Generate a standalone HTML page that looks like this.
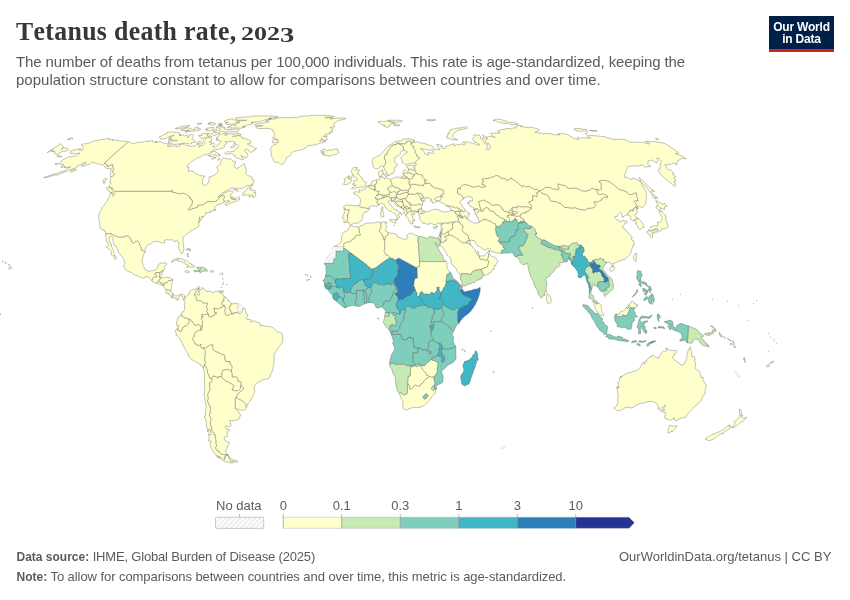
<!DOCTYPE html>
<html lang="en">
<head>
<meta charset="utf-8">
<title>Tetanus death rate, 2023</title>
<style>
html,body{margin:0;padding:0;background:#fff;}
body{width:850px;height:600px;position:relative;overflow:hidden;font-family:"Liberation Sans",sans-serif;}
.t{position:absolute;white-space:pre;line-height:1;margin:0;}
#title{left:16px;top:19.3px;font-family:"Liberation Serif",serif;font-weight:700;font-size:25.8px;color:#373737;letter-spacing:0.33px;}
#title .lc{display:inline-block;transform:scaleY(1.1);transform-origin:0 83.75%;}
#title .d{display:inline-block;margin-left:-2.3px;font-size:19.2px;letter-spacing:0;transform:scaleX(1.355);transform-origin:0 100%;}
#title .d3{position:relative;top:1.4px;font-size:1.1em;}
.sub{font-size:15px;color:#5b5b5b;}
.foot{font-size:13px;color:#5b5b5b;}
.foot b{font-weight:700;font-size:12px;}
#logo{position:absolute;left:769px;top:16px;width:65px;height:33px;background:#002147;border-bottom:3px solid #ce261e;color:#fff;font-weight:700;font-size:12px;text-align:center;line-height:12px;}
#logo span{position:absolute;left:0;width:65px;white-space:pre;}
#map{position:absolute;left:0;top:0;}
.lg{font-size:13px;color:#5b5b5b;}
</style>
</head>
<body>
<svg id="map" width="850" height="600" viewBox="0 0 850 600">
<defs>
<pattern id="hatch" width="3.5" height="3.5" patternUnits="userSpaceOnUse" patternTransform="rotate(45)">
<rect width="3.5" height="3.5" fill="#fff"/><line x1="1" y1="0" x2="1" y2="3.5" stroke="#e9e9e9" stroke-width="1.4"/>
</pattern>
</defs>
<g id="countries" fill-rule="evenodd" stroke="#4d4d4d" stroke-width="0.35" stroke-linejoin="round">
<path fill="#ffffcc" d="M359.1,229.2L359.3,232L360.1,234.4L360.2,235.2L356.6,235.2L355,236.4L354.8,238.3L352.2,239.4L351.5,240.7L349.7,241.7L347.2,242L343.7,243.7L343.6,247.2L343.6,247.7L351.9,253.8L359.5,259.5L367.1,265.2L367.7,266.4L369.1,267.2L370.1,267.6L370.2,269.2L372.7,269L375.9,267.8L382.4,262.7L390,257.7L389,256.1L387.2,254.9L386.2,255.3L385.3,253.9L385.2,252.8L383.9,250.9L384.8,249.8L384.5,248.1L384.8,246.7L384.6,245.5L384.9,243.4L384.8,242.2L384,239.8L382.9,235.2L381.5,234.1L381.5,233.5L379.7,231.9L379.4,229.9L380.7,228.5L381.2,226.3L380.8,223.9L381.2,222.5L379.7,222.7L378.8,222.1L376.5,222.1L374.5,223.1L373.4,222.7L369.8,223L366.2,223.4L364.1,224.2L362.7,225.3L360.4,225.7L358.3,227.2L358.2,227.1L358.2,227.3Z"/>
<path fill="#ffffcc" d="M343.7,243.7L347.2,242L349.7,241.7L351.5,240.7L352.2,239.4L354.8,238.3L355,236.4L356.6,235.2L360.2,235.2L360.1,234.4L359.3,232L359.1,229.2L358.2,227.3L358.2,227.1L357.3,227.1L355.1,226.6L353,226.7L351.7,225.6L350.9,225.6L350.1,225.6L349.4,227.2L347.9,229.9L346.3,231L344,232.2L342.6,234L342.2,235.3L341.3,237.6L341.8,240.8L339.9,243L338.8,243.7L337,245.5L334.9,245.8L333.7,246.8L343.7,246.8Z"/>
<path fill="url(#hatch)" stroke="#c9c9c9" d="M333.7,259L336,257.8L336.1,251.1L343.6,251.1L343.6,247.7L343.7,246.8L333.7,246.8L332.2,249.5L330.7,250.5L329.8,252.1L329.7,253.5L329.1,255L328.3,255.4L327,257.1L326.2,258.9L326.3,259.8L325.5,261.1L324.7,261.9L324.5,263.1L324.5,263.3L333.6,263.3Z"/>
<path fill="#7fcdbb" d="M327.4,276.3L328.5,275.7L329.8,275.7L330.8,276.5L332.4,277.1L333.8,279.1L335.2,280.8L336,280.4L336.3,278.8L337.1,278.8L338.7,279.5L339.9,279L340.8,279.2L341.2,278.6L350.3,278.5L350.9,276.7L350.5,276.4L349.5,265.1L348.5,253.8L351.9,253.8L343.6,247.7L343.6,251.1L336.1,251.1L336,257.8L333.7,259L333.6,263.3L324.5,263.3L324.4,264.2L325.5,265.3L326.1,266.6L325.8,267.9L326.1,269.1L326.3,271.7L325.9,274.2L325.3,275.5L325.4,276.9L326.2,276Z"/>
<path fill="#7fcdbb" d="M331.6,286.2L332.7,286.2L334.3,286.8L335,286.5L336.3,286.7L336.6,286.5L336.7,285.7L336.5,284.7L335.7,284L335.3,282.5L335.2,280.8L333.8,279.1L332.4,277.1L330.8,276.5L329.8,275.7L328.5,275.7L327.4,276.3L326.2,276L325.4,276.9L324.9,278.2L323.7,280.1L322.7,280.6L323.8,281.5L324.7,283.5L324.8,283.5L327.2,283.5L327.8,282.8L328.5,282.8L329.4,283.4L330.1,283.4L330.8,283L331.3,283.7L330.3,284.3L329.3,284.3L328.3,283.7L327.5,284.3L327.1,284.4L326.5,284.7L324.4,284.8L324.8,286.7L327.4,286Z"/>
<path fill="#7fcdbb" d="M327.1,284.4L327.5,284.3L328.3,283.7L329.3,284.3L330.3,284.3L331.3,283.7L330.8,283L330.1,283.4L329.4,283.4L328.5,282.8L327.8,282.8L327.2,283.5L324.8,283.5L324.7,283.5L324.4,284.7L324.4,284.8L326.5,284.7Z"/>
<path fill="#41b6c4" d="M330,289L330.6,288.5L331.1,288.5L331.5,288.2L331.3,287.3L331.5,287L331.6,286.2L327.4,286L324.8,286.7L324.9,287.2L325.6,287.8L325.6,288.2L326.1,288.9L327.1,289.1L328.3,290.2L329.3,288.9Z"/>
<path fill="#7fcdbb" d="M334,293.9L334.4,293.3L335.1,293.3L335.6,292.8L337.5,292.8L338.1,293.7L338.6,294.8L338.5,295.6L338.9,296.3L338.8,297.2L339.5,297.1L340,297L340.6,296.7L341.5,298.3L341.4,299.4L341.8,299.9L342.4,299.9L342.9,298.9L343.6,299L343.9,299L344.1,297.8L343.9,297.3L344.1,296.9L345,296.6L344.4,294.5L343.9,293.5L344.1,292.6L344.6,292.4L343.8,291.6L344,290.9L343.7,290.5L343.2,290.8L343.3,289.9L343.8,289.3L342.8,288.2L342.6,287.5L342.1,286.9L341.6,286.8L341.1,287.2L340.3,287.5L339.7,288.1L338.7,287.9L338.1,287.2L337.7,287.1L337.1,287.5L336.7,287.5L336.6,286.5L336.3,286.7L335,286.5L334.3,286.8L332.7,286.2L331.6,286.2L331.5,287L331.3,287.3L331.5,288.2L331.1,288.5L330.6,288.5L330,289L329.3,288.9L328.3,290.2L328.9,290.6L329.3,291.2L329.5,292.4L330.1,292.9L330.7,293.2L331.5,294.3L332.5,295.8L333.8,294.6Z"/>
<path fill="#41b6c4" d="M337.2,300.5L337.3,299.7L338.4,298.3L339.5,297.1L338.8,297.2L338.9,296.3L338.5,295.6L338.6,294.8L338.1,293.7L337.5,292.8L335.6,292.8L335.1,293.3L334.4,293.3L334,293.9L333.8,294.6L332.5,295.8L332.8,297.7L333.2,298.7L334.4,300.1L336,301.1L336.7,301.3Z"/>
<path fill="#7fcdbb" d="M345.6,305.2L345.6,304.1L344.6,303L343.9,302.9L343.2,302.1L343.7,301L343.5,299.7L343.6,299L342.9,298.9L342.4,299.9L341.8,299.9L341.4,299.4L341.5,298.3L340.6,296.7L340,297L339.5,297.1L338.4,298.3L337.3,299.7L337.2,300.5L336.7,301.3L338.2,303L340.2,304.4L342.3,306.4L344.6,307.7L345.2,307.7L345.4,305.5Z"/>
<path fill="#7fcdbb" d="M355.5,302.7L356.1,299.8L357.1,297.6L356.5,293.9L354.9,293.2L353.9,293.3L353,293.9L352,293.4L351.6,292.5L350.6,292L349.6,292.3L349.1,292.7L348.7,291.6L348.1,291.8L347.7,291.8L347.3,292.6L345.5,292.5L344.9,292.1L344.6,292.4L344.1,292.6L343.9,293.5L344.4,294.5L345,296.6L344.1,296.9L343.9,297.3L344.1,297.8L343.9,299L343.6,299L343.5,299.7L343.7,301L343.2,302.1L343.9,302.9L344.6,303L345.6,304.1L345.6,305.2L345.4,305.5L345.2,307.7L345.7,307.7L347.9,306.7L349.6,306L352.3,305.5L353.8,305.5L355.4,306L356.4,306L356.5,305Z"/>
<path fill="#7fcdbb" d="M364.3,301L364.1,299.7L364.6,297.3L364.1,296.4L363.9,294.3L363.8,292.4L362.9,291.1L363,290.3L362,290L361.3,290.5L360.2,290.3L356.3,290.4L356.2,291.9L356.5,293.9L357.1,297.6L356.1,299.8L355.5,302.7L356.5,305L356.4,306L358.5,306.7L360.6,306L361.8,305.1L365.4,303.6L364.9,302.6Z"/>
<path fill="#7fcdbb" d="M366.8,295.2L366.4,294.7L366.3,293.4L365.5,292.4L364.8,291.7L365.1,290.3L363,290.3L362.9,291.1L363.8,292.4L363.9,294.3L364.1,296.4L364.6,297.3L364.1,299.7L364.3,301L364.9,302.6L365.4,303.6L367.3,303L366.7,301.2Z"/>
<path fill="#7fcdbb" d="M369.3,296.8L369.7,295.2L370.4,294.4L371.5,292.8L371.3,292.1L371.7,291L371.2,289.4L371.3,288.6L369.5,287.1L368.7,287.1L367.9,287.9L367.5,288.6L366.3,288.9L365.8,290L365.1,290.3L364.8,291.7L365.5,292.4L366.3,293.4L366.4,294.7L366.8,295.2L366.7,301.2L367.3,303L369.2,302.7L369.3,298.5Z"/>
<path fill="#7fcdbb" d="M356.3,290.4L360.2,290.3L361.3,290.5L362,290L363,290.3L365.1,290.3L365.8,290L366.3,288.9L367.5,288.6L367.9,287.9L368,286L365.3,285.5L365.3,284.2L364,282.5L363.7,281.3L363.8,280L362.4,280.1L361.8,279.5L360.6,279.9L358.4,281L358,281.8L356.2,283L355.9,283.7L354.9,284.2L353.8,283.9L353.2,284.5L352.8,286.3L351,288.5L351.1,289.3L350.4,290.4L350.6,292L351.6,292.5L352,293.4L353,293.9L353.9,293.3L354.9,293.2L356.5,293.9L356.2,291.9Z"/>
<path fill="#41b6c4" d="M335.7,284L336.5,284.7L336.7,285.7L336.6,286.5L336.7,287.5L337.1,287.5L337.7,287.1L338.1,287.2L338.7,287.9L339.7,288.1L340.3,287.5L341.1,287.2L341.6,286.8L342.1,286.9L342.6,287.5L342.8,288.2L343.8,289.3L343.3,289.9L343.2,290.8L343.7,290.5L344,290.9L343.8,291.6L344.6,292.4L344.9,292.1L345.5,292.5L347.3,292.6L347.7,291.8L348.1,291.8L348.7,291.6L349.1,292.7L349.6,292.3L350.6,292L350.4,290.4L351.1,289.3L351,288.5L352.8,286.3L353.2,284.5L353.8,283.9L354.9,284.2L355.9,283.7L356.2,283L358,281.8L358.4,281L360.6,279.9L361.8,279.5L362.4,280.1L363.8,280L365.3,279.9L366.2,279L369.3,278.8L371.3,278.4L371.5,276.8L372.7,275L372.7,269L370.2,269.2L370.1,267.6L369.1,267.2L367.7,266.4L367.1,265.2L359.5,259.5L351.9,253.8L348.5,253.8L349.5,265.1L350.5,276.4L350.9,276.7L350.3,278.5L341.2,278.6L340.8,279.2L339.9,279L338.7,279.5L337.1,278.8L336.3,278.8L336,280.4L335.2,280.8L335.3,282.5Z"/>
<path fill="#41b6c4" d="M369.5,287.1L371.3,288.6L371.4,286.3L372.1,285.2L372.4,283.7L373,283.1L375.4,282.8L377.8,283.8L378.6,284.8L379.8,284.8L380.9,284.2L383.6,285.5L384.8,285.5L386.2,284.3L387.5,284.4L388.2,284.1L389.4,284.2L391.2,285L392.9,283.5L393.5,283.6L395.1,286.5L395.5,286.4L395.6,285.6L396.2,285.4L396.4,284.2L394.9,284.2L394.9,282.5L394,281.5L394.9,278.1L397.8,275.6L397.8,272.2L398.6,266.9L399,265.8L398.1,264.9L398,264L397.2,263.4L396.5,259.3L394.9,260.3L393.6,258.8L390,257.7L382.4,262.7L375.9,267.8L372.7,269L372.7,275L371.5,276.8L371.3,278.4L369.3,278.8L366.2,279L365.3,279.9L363.8,280L363.7,281.3L364,282.5L365.3,284.2L365.3,285.5L368,286L367.9,287.9L368.7,287.1Z"/>
<path fill="#7fcdbb" d="M384.9,302.2L386.3,300.7L387.2,300.6L388.5,301.7L390.1,300.8L390.3,299.7L390.8,298.7L391.1,297.3L392.3,296.3L392.8,294.4L393.3,293.9L393.6,292.5L394.2,290.8L396.1,288.8L396.2,288L396.4,287.5L395.5,286.4L395.1,286.5L393.5,283.6L392.9,283.5L391.2,285L389.4,284.2L388.2,284.1L387.5,284.4L386.2,284.3L384.8,285.5L383.6,285.5L380.9,284.2L379.8,284.8L378.6,284.8L377.8,283.8L375.4,282.8L373,283.1L372.4,283.7L372.1,285.2L371.4,286.3L371.3,288.6L371.2,289.4L371.7,291L371.3,292.1L371.5,292.8L370.4,294.4L369.7,295.2L369.3,296.8L369.3,298.5L369.2,302.7L371.2,302.7L373,302.7L374.6,304.4L375.4,306.3L376.6,307.9L378.4,308L379.3,307.4L380.2,307.5L382.6,306.6L384.3,302.2Z"/>
<path fill="#7fcdbb" d="M390.1,313L391.5,313.3L392.9,313L393.2,313.1L396.1,313.2L398,313.9L399.8,314.5L399.9,313.1L399.7,312.4L399.6,311.2L398.5,310.3L397.7,309L397.5,308L396.4,306.7L396.6,305.9L396.3,304.8L396.5,302.8L397,302.3L398.2,299.7L398.5,299L397.8,297.2L397.4,296.1L396.4,295.6L395.1,294.1L395.6,292.9L396.6,293.1L397.3,292.9L398.5,293L397.3,290.6L397.3,288.8L397.1,287.1L396.2,285.4L395.6,285.6L395.5,286.4L396.4,287.5L396.2,288L396.1,288.8L394.2,290.8L393.6,292.5L393.3,293.9L392.8,294.4L392.3,296.3L391.1,297.3L390.8,298.7L390.3,299.7L390.1,300.8L388.5,301.7L387.2,300.6L386.3,300.7L384.9,302.2L384.3,302.2L382.6,306.6L382.6,307.3L383.2,307.7L383.6,308.9L384.7,309.3L385.6,311L385.3,313.1L389,313.1Z"/>
<path fill="#c7e9b4" d="M389.1,316.3L389,313.1L385.3,313.1L384.5,316L384.8,316.3L385.7,316.3Z"/>
<path fill="#c7e9b4" d="M389.5,326.3L390.3,325.6L391.8,325.3L392,324.1L393.3,325.4L395.3,325.5L396,324.3L396.3,322.5L396.1,320.5L394.9,318.9L396,315.9L395.4,315.4L393.6,315.6L393,314.3L393.2,313.1L392.9,313L391.5,313.3L390.1,313L389,313.1L389.1,316.3L385.7,316.3L384.8,316.3L384.9,316.4L384.4,318.3L383.9,320.3L383.4,321.1L383.3,322L384.7,324.6L386.2,326.8L388.6,329.4L390.4,328Z"/>
<path fill="#7fcdbb" d="M392.1,330.7L393,331.5L393.6,331.8L394.4,330.8L395.6,330.8L395.8,331.6L396.6,332L398,330.4L399.3,329.1L399.9,328.3L399.8,326.1L400.9,323.6L401.9,322.3L403.4,321L403.7,320.1L403.8,319.2L404.2,318.3L404,316.8L404.3,314.5L404.7,312.9L405.4,311.5L405.6,309.9L404.1,309.7L402.5,309.3L401.2,310.7L399.9,313.1L399.8,314.5L398,313.9L396.1,313.2L393.2,313.1L393,314.3L393.6,315.6L395.4,315.4L396,315.9L394.9,318.9L396.1,320.5L396.3,322.5L396,324.3L395.3,325.5L393.3,325.4L392,324.1L391.8,325.3L390.3,325.6L389.5,326.3L390.4,328L388.6,329.4L390.5,332.2L391.4,331.1Z"/>
<path fill="#41b6c4" d="M396.5,302.8L396.3,304.8L396.6,305.9L396.4,306.7L397.5,308L397.7,309L398.5,310.3L399.6,311.2L399.7,312.4L399.9,313.1L401.2,310.7L402.5,309.3L404.1,309.7L405.6,309.9L405.8,308.1L406.6,306.7L407.9,305.9L409.8,306.8L411.3,307.8L412.9,308L414.7,308.5L415.3,307L415.7,306.7L416.7,307L419.3,305.7L420.2,306.2L420.9,306.2L421.3,305.5L422.1,305.3L423.8,305.6L425.3,305.6L426.1,305.4L425.7,304.5L424,303.5L423.4,301.9L422.4,300.8L420.8,299.5L420.8,298.6L419.5,297.5L417.9,296.5L417.8,296.4L416.9,295.7L417.1,292.7L415.8,291.1L415.5,289.9L414,290.4L412.9,291.4L411.3,294.3L409.1,295.5L406.9,295.3L406.3,295.6L406.5,296.5L405.3,297.4L404.3,298.4L401.5,299.4L400.9,298.9L400.5,298.8L400.1,299.5L398.2,299.7L397,302.3Z"/>
<path fill="#2c7fb8" d="M397.3,288.8L397.3,290.6L398.5,293L397.3,292.9L396.6,293.1L395.6,292.9L395.1,294.1L396.4,295.6L397.4,296.1L397.8,297.2L398.5,299L398.2,299.7L400.1,299.5L400.5,298.8L400.9,298.9L401.5,299.4L404.3,298.4L405.3,297.4L406.5,296.5L406.3,295.6L406.9,295.3L409.1,295.5L411.3,294.3L412.9,291.4L414,290.4L415.5,289.9L415.5,289.3L414.6,288.5L414.6,287L414.1,286L413.3,286.2L413.5,285.2L414.1,284.1L413.8,283L414.5,282.2L414,281.6L414.6,280L415.6,278.1L417.5,278.3L417.1,267.9L407.9,262.9L398.7,257.9L396.5,259.3L397.2,263.4L398,264L398.1,264.9L399,265.8L398.6,266.9L397.8,272.2L397.8,275.6L394.9,278.1L394,281.5L394.9,282.5L394.9,284.2L396.4,284.2L396.2,285.4L397.1,287.1Z"/>
<path fill="#ffffcc" d="M388.1,234.5L387.1,235.2L386.4,236.1L384.9,237.1L385.2,238.2L385.1,239.2L384,239.8L384.8,242.2L384.9,243.4L384.6,245.5L384.8,246.7L384.5,248.1L384.8,249.8L383.9,250.9L385.2,252.8L385.3,253.9L386.2,255.3L387.2,254.9L389,256.1L390,257.7L393.6,258.8L394.9,260.3L396.5,259.3L398.7,257.9L407.9,262.9L417.1,267.9L417.4,266.8L419.7,266.8L419.5,261.6L418.5,242.6L417.7,240.6L418.2,238.9L417.8,237.8L418.5,236.6L417.9,235.7L415.7,235.4L414.9,234.9L414.1,234.9L413.3,233.8L410.3,233.2L408.8,233.6L407.3,234.8L406.7,236.1L407.3,238.1L406.3,239.3L405.3,240L402.8,238.7L399.7,237.6L397.7,237.1L396.5,234.7L393.6,233.6L391.7,233.1L390.8,233.4L388.2,232.5Z"/>
<path fill="#ffffcc" d="M381.2,226.3L380.7,228.5L379.4,229.9L379.7,231.9L381.5,233.5L381.5,234.1L382.9,235.2L384,239.8L385.1,239.2L385.2,238.2L384.9,237.1L386.4,236.1L387.1,235.2L388.1,234.5L388.2,232.5L387.3,232.1L386.7,230.8L385.6,230.8L385.1,229.3L386.5,228L386.7,225.8L386,225.1L385.9,223.9L387,222.6L386.8,222.1L385,223.1L385,221.8L383.5,221.5L381.2,222.5L380.8,223.9Z"/>
<path fill="#c7e9b4" d="M418.2,238.9L417.7,240.6L418.5,242.6L419.5,261.6L446.3,261.6L445.9,261L443.1,258.7L442.9,257L443.3,256.5L441.2,253.6L440.3,252.2L439.4,250.7L437.4,246.7L436.6,245.4L435.8,244L435.2,242.6L435.6,242.4L436.8,244.8L437.9,246L438.7,246.8L439.2,246.4L439.7,245L440,243L440.5,242L438.6,237.5L437.6,238.1L435.9,238L434,237.4L433.6,238.2L432.9,236.9L431.3,236.6L429.4,236.8L428.5,237.5L426.9,238.4L425.8,238L423.6,237.2L421.4,236.5L418.5,236.6L417.8,237.8Z"/>
<path fill="#ffffcc" d="M419.7,266.8L417.4,266.8L417.1,267.9L417.5,278.3L415.6,278.1L414.6,280L414,281.6L414.5,282.2L413.8,283L414.1,284.1L413.5,285.2L413.3,286.2L414.1,286L414.6,287L414.6,288.5L415.5,289.3L415.5,289.9L415.8,291.1L417.1,292.7L416.9,295.7L417.8,296.4L417.9,296.5L418.6,296.2L419.4,295.7L420,293.4L420.6,292.2L422.2,291.8L422.6,292.6L423.9,294.1L424.5,294.3L425.3,293.9L427,294L427.3,294.5L429.6,294.5L429.7,294L430.8,293.5L431,292.7L431.9,292.2L433.9,293.7L435,293.4L436.1,291.5L437.4,290.1L437.1,288.5L436.5,287.8L437.9,287.6L438.1,287L439.1,287.2L438.9,289.2L439.3,291L440.5,292.1L440.8,293L440.7,294.3L441.1,294L441.7,291.3L442.7,290.5L442.9,289.5L443.9,287.5L445.2,286.2L446,283.6L446.3,281.4L446,280.3L446.8,276.5L447,274.7L447.7,273.9L449.3,273.5L450.4,272L449.1,271L448.2,270.4L447.2,267.3L446.7,264.6L447.2,264.1L446.3,261.6L419.5,261.6Z"/>
<path fill="#41b6c4" d="M440.8,293L440.5,292.1L439.3,291L438.9,289.2L439.1,287.2L438.1,287L437.9,287.6L436.5,287.8L437.1,288.5L437.4,290.1L436.1,291.5L435,293.4L433.9,293.7L431.9,292.2L431,292.7L430.8,293.5L429.7,294L429.6,294.5L427.3,294.5L427,294L425.3,293.9L424.5,294.3L423.9,294.1L422.6,292.6L422.2,291.8L420.6,292.2L420,293.4L419.4,295.7L418.6,296.2L417.9,296.5L419.5,297.5L420.8,298.6L420.8,299.5L422.4,300.8L423.4,301.9L424,303.5L425.7,304.5L426.1,305.4L427.5,307.5L428.6,307.8L429.2,307.4L430.2,307.6L431.5,307L432.1,308.2L434.1,309.9L435.1,309.2L436.5,309.7L438.4,309.1L440,309.1L441.4,307.9L442.8,306.4L444.3,304.7L442.9,301.8L441.9,301.2L441.5,300.2L440.3,298.9L438.8,298.7L439.6,297.2L440.8,297.2L441.1,296.4L441.1,294L440.7,294.3Z"/>
<path fill="#7fcdbb" d="M447.7,273.9L447,274.7L446.8,276.5L446,280.3L446.3,281.4L449,281.9L449.6,280L451.1,281.1L452.4,280.5L453,281.1L454.5,281.1L456.6,282.2L457.2,283.1L458.2,283.9L459.2,285.4L460.1,286.3L461.1,286.5L461.7,285.9L460.6,285.1L459.8,284.2L458.5,282.7L457.2,281.2L453.9,278.7L452.6,277.5L451.9,275L450.4,272L449.3,273.5Z"/>
<path fill="#7fcdbb" d="M460.1,286.3L459.3,287.4L458.6,288.7L458.8,289.4L458.9,290.2L460.1,290.2L460.7,290L461.2,290.5L462,289.1L461,288.4L462.3,287.8L462.3,286.7L461.7,285.9L461.1,286.5Z"/>
<path fill="#41b6c4" d="M445.2,286.2L443.9,287.5L442.9,289.5L442.7,290.5L441.7,291.3L441.1,294L441.1,296.4L440.8,297.2L439.6,297.2L438.8,298.7L440.3,298.9L441.5,300.2L441.9,301.2L442.9,301.8L444.3,304.7L445.6,305.1L445.6,306.6L446.4,307.4L448,307.4L450.9,309.6L451.7,309.7L452.2,309.6L452.7,309.9L454.3,310.1L454.9,309L457,307.9L457.9,308.8L459.5,308.8L460.1,308L461.6,307.9L463.6,306.1L466.6,306L473,298.1L471,298.1L463.4,295.1L462.5,294.1L461.6,292.9L460.7,291.4L461.2,290.5L460.7,290L460.1,290.2L458.9,290.2L458.8,289.4L458.6,288.7L459.3,287.4L460.1,286.3L459.2,285.4L458.2,283.9L457.2,283.1L456.6,282.2L454.5,281.1L453,281.1L452.4,280.5L451.1,281.1L449.6,280L449,281.9L446.3,281.4L446,283.6Z"/>
<path fill="#2c7fb8" d="M460.7,291.4L461.6,292.9L462.5,294.1L463.4,295.1L471,298.1L473,298.1L466.6,306L463.6,306.1L461.6,307.9L460.1,308L459.5,308.8L457.5,311.8L457.6,321.3L459,323.4L459.5,322.8L460,321.5L462.6,318.3L464.7,316.3L468.1,313.7L470.4,311.6L473.1,308L475,305.1L476.9,301.3L478.2,297.9L479.2,295L479.8,292.2L480.2,291.2L480.1,289.9L480.3,288.3L480.2,287.6L479.3,287.6L478.3,288.5L477.1,288.8L476.1,289.2L475.3,289.2L474,289.3L473.2,289.8L472.1,290L470.1,290.8L467.6,291.1L465.5,291.8L464.3,291.7L463.3,290.7L462.8,289.6L462,289.1L461.2,290.5Z"/>
<path fill="#7fcdbb" d="M457.5,311.8L459.5,308.8L457.9,308.8L457,307.9L454.9,309L454.3,310.1L452.7,309.9L452.2,309.6L451.7,309.7L450.9,309.6L448,307.4L446.4,307.4L445.6,306.6L445.6,305.1L444.3,304.7L442.8,306.4L441.4,307.9L442.5,309.7L442.8,311.1L443.9,314.1L443,316L441.9,317.7L441.2,318.8L441.2,321.5L450,327.2L450.1,328.7L453.4,331.3L454.3,330.4L454.8,328.7L455.5,327.6L455.9,325.8L456.8,325.6L457.3,324.5L459,323.4L457.6,321.3Z"/>
<path fill="#7fcdbb" d="M433.2,322L434,321.7L436.6,321.7L441.2,321.5L441.2,318.8L441.9,317.7L443,316L443.9,314.1L442.8,311.1L442.5,309.7L441.4,307.9L440,309.1L438.4,309.1L436.5,309.7L435.1,309.2L434.1,309.9L434,312.9L434.9,313.3L434.2,314.2L433.3,314.9L432.4,316.3L432,317.5L431.8,319.6L431.3,320.6L431.3,322.6L431.8,322.8Z"/>
<path fill="#7fcdbb" d="M450,327.2L441.2,321.5L436.6,321.7L434,321.7L433.2,322L434.1,323.5L434,325L433.3,325.3L433.4,326.4L433.9,327L433.9,327.8L433.4,328.4L432.5,329.7L431.6,330.7L430.6,330.8L431,333.2L430.8,334.6L431.2,336.1L432.5,337.6L433.7,340.8L434.7,341.5L435.6,341.9L437,342.4L438.3,343.2L440.6,343.7L441,344.4L441.8,345.6L442.3,349.2L444,348.9L446.7,349.7L447.4,349.3L449,349.3L449.8,348.5L451.2,348.6L453.7,347.5L455.6,346L454.8,345.4L453.9,342.9L453.1,341.2L453.3,340L453.2,339.2L453.9,337.6L453.8,336.9L452.4,336L452.3,334.5L453.4,331.3L450.1,328.7Z"/>
<path fill="#7fcdbb" d="M431.3,322.6L430.6,323.3L430.5,324.9L430.2,325L430,326.5L431.4,326.7L432.1,325.2L433.3,325.3L434,325L434.1,323.5L433.2,322L431.8,322.8Z"/>
<path fill="#41b6c4" d="M432.5,329.7L433.4,328.4L433.9,327.8L433.9,327L433.4,326.4L433.3,325.3L432.1,325.2L431.4,326.7L430,326.5L430.5,327.6L430.6,330.8L431.6,330.7Z"/>
<path fill="#7fcdbb" d="M393,334.7L393.8,334.4L400.6,334.4L401.2,336.3L401.8,337.9L402.3,338.8L403.2,340.1L404.7,339.9L405.5,339.6L406.8,339.9L407.1,339.3L407.7,337.8L409.1,337.7L409.3,337.2L410.4,337.2L410.2,338.1L413,338.1L413.1,339.7L413.5,340.8L413.1,342.3L413.3,343.9L414,344.9L413.9,348L414.4,347.8L415.4,347.8L416.9,347.5L417.9,347.6L418.7,347.7L418.8,348.5L419.9,348.4L421.3,348.7L422.1,349.8L423.9,350.2L425.3,349.4L425.8,350.7L427.6,351.1L428.4,352.2L429.3,353.7L431,353.7L430.9,350.9L430.3,351.3L428.7,350.3L428.1,349.9L428.4,347.2L428.9,344.2L428.4,343L429.1,341.3L429.7,341L432.8,340.6L433.7,340.8L432.5,337.6L431.2,336.1L430.8,334.6L431,333.2L430.6,330.8L430.5,327.6L430,326.5L430.2,325L430.5,324.9L430.6,323.3L431.3,322.6L431.3,320.6L431.8,319.6L432,317.5L432.4,316.3L433.3,314.9L434.2,314.2L434.9,313.3L434,312.9L434.1,309.9L432.1,308.2L431.5,307L430.2,307.6L429.2,307.4L428.6,307.8L427.5,307.5L426.1,305.4L425.3,305.6L423.8,305.6L422.1,305.3L421.3,305.5L420.9,306.2L420.2,306.2L419.3,305.7L416.7,307L415.7,306.7L415.3,307L414.7,308.5L412.9,308L411.3,307.8L409.8,306.8L407.9,305.9L406.6,306.7L405.8,308.1L405.6,309.9L405.4,311.5L404.7,312.9L404.3,314.5L404,316.8L404.2,318.3L403.8,319.2L403.7,320.1L403.4,321L401.9,322.3L400.9,323.6L399.8,326.1L399.9,328.3L399.3,329.1L398,330.4L396.6,332L395.8,331.6L395.6,330.8L394.4,330.8L393.6,331.8L393,331.5L392.1,332.1L391.7,332.8L391.7,333.9L391.1,334.2L391.4,335L392.4,334.6Z"/>
<path fill="#7fcdbb" d="M392.2,363.3L393.7,363.4L395,364.6L395.4,364.4L404.6,364.3L406.1,365.5L411.6,365.9L415.9,364.8L414.4,363.2L412.9,361.1L413.2,352.8L418,352.8L417.8,351.9L418.2,350.9L417.8,349.7L418.1,348.4L417.9,347.6L416.9,347.5L415.4,347.8L414.4,347.8L413.9,348L414,344.9L413.3,343.9L413.1,342.3L413.5,340.8L413.1,339.7L413,338.1L410.2,338.1L410.4,337.2L409.3,337.2L409.1,337.7L407.7,337.8L407.1,339.3L406.8,339.9L405.5,339.6L404.7,339.9L403.2,340.1L402.3,338.8L401.8,337.9L401.2,336.3L400.6,334.4L393.8,334.4L393,334.7L392.4,334.6L391.4,335L392.3,337.2L393.5,341.4L392.7,342.5L392.6,343L393.1,344.6L393.8,346.1L394.4,347.1L394.5,348.6L394.3,350.5L393.5,351.7L392.2,353.4L391.6,354.5L390.9,356.8L390.7,357.9L389.9,360.3L389.5,362.6L389.7,364.3L390.8,363.8ZM391.7,332.8L392.1,332.1L393,331.5L392.1,330.7L391.4,331.1L390.5,332.2L391.1,334.2L391.7,333.9Z"/>
<path fill="#7fcdbb" d="M419.2,364.4L420.1,365L420.1,365.2L420.5,365.4L423,365.7L423.8,366L424.5,365.9L425.9,364.2L427.9,362.1L428.8,361.9L429.1,361L430.4,359.9L432.1,359.6L432,357.7L439,355.6L437.8,354.9L438.6,352.4L439.4,351.6L439,349.4L439.5,347.3L439.9,346.6L439.4,344.3L438.3,343.2L437,342.4L435.6,341.9L434.7,341.5L433.7,340.8L432.8,340.6L429.7,341L429.1,341.3L428.4,343L428.9,344.2L428.4,347.2L428.1,349.9L428.7,350.3L430.3,351.3L430.9,350.9L431,353.7L429.3,353.7L428.4,352.2L427.6,351.1L425.8,350.7L425.3,349.4L423.9,350.2L422.1,349.8L421.3,348.7L419.9,348.4L418.8,348.5L418.7,347.7L417.9,347.6L418.1,348.4L417.8,349.7L418.2,350.9L417.8,351.9L418,352.8L413.2,352.8L412.9,361.1L414.4,363.2L415.9,364.8L417.7,364.3Z"/>
<path fill="#41b6c4" d="M441,344.4L440.6,343.7L438.3,343.2L439.4,344.3L439.9,346.6L439.5,347.3L439,349.4L439.4,351.6L438.6,352.4L437.8,354.9L439,355.6L440.3,356.8L440.9,356.6L441.8,357.2L441.9,358.3L441.4,359.5L441.4,361.3L442.8,362.9L443.6,361.1L444.6,360.6L444.6,357.2L443.7,355.3L442.9,354.5L442.1,354.5L441.6,351.1L442.3,349.2L441.8,345.6Z"/>
<path fill="#7fcdbb" d="M451.2,348.6L449.8,348.5L449,349.3L447.4,349.3L446.7,349.7L444,348.9L442.3,349.2L441.6,351.1L442.1,354.5L442.9,354.5L443.7,355.3L444.6,357.2L444.6,360.6L443.6,361.1L442.8,362.9L441.4,361.3L441.4,359.5L441.9,358.3L441.8,357.2L440.9,356.6L440.3,356.8L439,355.6L432,357.7L432.1,359.6L432.2,360.5L434.1,360.5L435.2,361L435.6,361.7L436.7,361.9L437.9,362.7L437.7,366L437.2,367.8L437,369.8L437.3,370.6L437,372.1L436.7,372.4L435.9,374.2L433.4,377.2L434.3,380.9L434.8,382.7L434.2,385.6L434.4,386.6L434.6,387.7L434.7,388.9L436.4,388.9L436.7,387.6L436.2,387.4L436,386.3L437.1,385.3L439.9,383.9L441.8,383L442.8,382.1L443.2,381L442.7,380.6L443.1,379.3L443.3,376.8L442.9,376.9L442.9,376.1L442.6,374.6L441.6,372.6L441.9,370.7L442.9,370.1L444.6,368.3L445.4,367.8L448.2,365L450.8,363.7L452.9,362.7L454.5,361.1L455.5,359.3L456.2,357.4L455.9,356.2L455.9,352.1L455.8,349.8L455.9,347.2L455.6,346L453.7,347.5Z"/>
<path fill="#ffffcc" d="M436.7,372.4L437,372.1L437.3,370.6L437,369.8L437.2,367.8L437.7,366L437.9,362.7L436.7,361.9L435.6,361.7L435.2,361L434.1,360.5L432.2,360.5L432.1,359.6L430.4,359.9L429.1,361L428.8,361.9L427.9,362.1L425.9,364.2L424.5,365.9L423.8,366L423,365.7L420.5,365.4L421.3,367.5L421.7,367.9L422.4,369.5L424.9,372.3L425.8,372.6L425.8,373.5L426.4,375.2L428.1,375.6L429.5,376.8L430.4,376.8L431.5,377.2L432.2,376.9L433.4,377.2L435.9,374.2Z"/>
<path fill="#ffffcc" d="M426.4,375.2L425.8,373.5L425.8,372.6L424.9,372.3L422.4,369.5L421.7,367.9L421.3,367.5L420.5,365.4L420.1,365.2L418.8,365.8L418.1,365.8L416.6,366.8L415.8,365.7L412.3,366.7L410.6,366.7L410.2,376L408,376.1L407.7,383.8L408.3,384.2L409.5,386.6L409.3,388.2L409.7,389.2L411.3,388.9L412.5,387.7L413.6,386.9L414.2,385.7L415.3,385.1L416.2,385.4L417.3,386.1L419.1,386.3L420.6,385.7L420.9,384.8L421.3,383.6L422.5,383.4L423.3,382.4L424.1,380.6L426.2,378.7L429.5,376.8L428.1,375.6Z"/>
<path fill="#c7e9b4" d="M401.3,393.2L401.7,394.3L402.7,394.5L404,395L405.2,394.7L407.3,393.4L407.7,383.8L408,376.1L410.2,376L410.6,366.7L412.3,366.7L415.8,365.7L416.6,366.8L418.1,365.8L418.8,365.8L420.1,365.2L420.1,365L419.2,364.4L417.7,364.3L415.9,364.8L411.6,365.9L406.1,365.5L404.6,364.3L395.4,364.4L395,364.6L393.7,363.4L392.2,363.3L390.8,363.8L389.7,364.3L389.8,366.3L391.6,368.8L392.1,370.4L393.2,373.6L394.3,375.8L395.2,376.8L395.5,378.3L395.4,381.4L396.1,385.4L396.6,387.3L397,389.8L397.8,391.7L399.4,393.7L400.5,392.4Z"/>
<path fill="#ffffcc" d="M434.2,390.1L432.9,390.4L431.6,388.9L431.7,388L432.3,387L432.6,386.3L433.3,386.1L434.4,386.6L434.2,385.6L434.8,382.7L434.3,380.9L433.4,377.2L432.2,376.9L431.5,377.2L430.4,376.8L429.5,376.8L426.2,378.7L424.1,380.6L423.3,382.4L422.5,383.4L421.3,383.6L420.9,384.8L420.6,385.7L419.1,386.3L417.3,386.1L416.2,385.4L415.3,385.1L414.2,385.7L413.6,386.9L412.5,387.7L411.3,388.9L409.7,389.2L409.3,388.2L409.5,386.6L408.3,384.2L407.7,383.8L407.3,393.4L405.2,394.7L404,395L402.7,394.5L401.7,394.3L401.3,393.2L400.5,392.4L399.4,393.7L400.8,397.1L401.8,399.3L403.2,401.8L403.1,403.8L402.4,404.3L403,406L402.9,407.6L403.1,408.3L403.2,407.9L404.1,409L404.8,409.1L405.7,410L406.7,410L408.1,409L410,408.6L412.3,407.5L413.2,407.7L414.6,407.3L416.9,407.9L418,407.4L419.3,407.7L419.7,407L420.8,406.9L423.2,405.9L424.9,404.7L426.6,403.1L429.4,400.4L430.8,398.5L431.5,397.2L432.6,395.9L433,395.5L434.6,394.2L435.3,393L435.7,390.8L436.4,388.9L434.7,388.9ZM426.5,393.9L427.4,394.7L428.1,395.5L427.4,396.8L426.9,397.6L425.6,398L425.2,398.9L424.4,399.1L422.9,397.1L424.1,395.5L425.4,394.4Z"/>
<path fill="#c7e9b4" d="M434.4,386.6L433.3,386.1L432.6,386.3L432.3,387L431.7,388L431.6,388.9L432.9,390.4L434.2,390.1L434.7,388.9L434.6,387.7Z"/>
<path fill="#7fcdbb" d="M425.4,394.4L424.1,395.5L422.9,397.1L424.4,399.1L425.2,398.9L425.6,398L426.9,397.6L427.4,396.8L428.1,395.5L427.4,394.7L426.5,393.9Z"/>
<path fill="#41b6c4" d="M463.5,368.6L463.9,369.8L463.6,371.5L462.4,373.5L462.3,374.3L461.2,374.8L460.7,376.7L460.8,378.6L461.4,380.6L461.4,383L461.9,384.3L463.6,385.3L464.8,385.9L466.9,384.8L468.8,384.2L470.1,381.2L471.2,377.6L473,372.6L474.4,369L475.5,366L475.8,363.8L476.4,363.2L476.7,362L476.4,360.1L476.9,359.3L477.6,360.9L478,360.1L478.3,358.8L477.8,357.6L477.6,354.5L477.1,352.8L476.5,351.6L475.8,350.5L475,351.7L474.9,353.3L473.5,355.1L472.6,354.7L472.8,355.9L472.1,357.2L470.1,358.8L468.7,360.3L467.7,360.3L466.8,360.8L465.5,361.3L464.4,361.4L464,363.1L463.1,364.5L463.1,366.9Z"/>
<path fill="#ffffcc" d="M476.6,208.6L478.2,209.3L480.2,211.3L481.3,211.2L478.7,201.7L483.6,200.1L484,200.4L487.8,202.2L489.8,203.2L492.4,205.5L494.8,205.1L498.3,204.9L501.4,206.8L502,209.4L503,209.4L504.1,211.5L506.8,211.6L507.7,212.9L508.5,212.8L508.9,211L511.1,209.2L512.1,208.7L512.3,207.6L513.5,207.2L517.3,208.1L517.1,206.6L518.1,206L521.4,207.1L522.1,206.8L525.6,206.9L528.8,207.2L530.2,208.1L531.6,208.5L530.9,207L532.1,206.3L528.5,201.9L532.2,200.8L533,200.3L532.6,195.7L537,196.5L537.6,195.4L536.6,192.8L538.2,192.6L538.9,190.9L537.1,189.3L534.7,189.7L533.4,188.6L531.7,188.1L530.1,186.7L528.8,186.2L526.2,186.9L522.8,185.4L522.4,186.7L514.9,180.4L511.5,178.4L511.8,177.7L508.1,180L506.3,180.2L505.8,178.8L502.9,177.9L501.2,178.6L499.4,176L495.7,175.4L494.4,176.5L490,177.4L489.3,178L482.4,178.9L481.8,179.7L483.9,181.4L482.3,182.1L482.9,182.7L481.4,184L485.3,185.7L485.2,186.9L482.3,186.8L482,187.5L479,186.2L475.9,186.3L474.1,187.3L471.4,186.3L466.5,184.6L463.5,184.7L460.1,187.4L460.4,189.2L458,187.8L457.1,190.5L457.8,191.1L457.1,193L459.2,194.7L460.7,194.6L462.4,196.3L462.6,197.7L463.7,198.1L464.2,197.9L465.5,197.5L467.6,196.4L469.5,197L471.5,196.9L472.3,198.5L472.5,201L470.7,200.6L469,201L469.4,202.9L467.3,202.7L467.6,203.5L468.9,204.2L470.4,206.5L473,207.3L473.6,208.3L473.4,209.3L473.6,210L474.4,209.1Z"/>
<path fill="#ffffcc" d="M509.3,222L509.8,219.4L508.8,217.4L507.1,216.8L507.3,215.7L509.1,215.8L509.7,214.3L509.9,212.7L512.6,212.1L512.5,213.3L513,214L513.9,213.9L515.6,214.2L517.7,212.3L514.8,211L513.5,211.6L511.6,210.6L512.9,209L512.1,208.7L511.1,209.2L508.9,211L508.5,212.8L507.7,212.9L506.8,211.6L504.1,211.5L503,209.4L502,209.4L501.4,206.8L498.3,204.9L494.8,205.1L492.4,205.5L489.8,203.2L487.8,202.2L484,200.4L483.6,200.1L478.7,201.7L481.3,211.2L483.6,211.1L482.9,209.8L484.5,209L485.9,207.5L489.1,208.8L489.9,210.9L490.8,211.4L493.1,211.3L493.9,211.8L495.6,214.4L498.5,216.2L500.2,217.5L502.8,218.7L506,219.9L506.3,221.4L507.5,221.4Z"/>
<path fill="#ffffcc" d="M482.2,219.9L483.7,219.9L484.5,219.5L486.1,219.7L488.8,221L490.6,221.3L493.5,223.6L495.2,223.7L495.8,225.9L498.3,226.9L499.8,226.6L500,225.4L501.6,225L502.7,224.2L502.6,222.1L504.3,221.6L504.4,220.7L505.6,221.4L506.3,221.4L506,219.9L502.8,218.7L500.2,217.5L498.5,216.2L495.6,214.4L493.9,211.8L493.1,211.3L490.8,211.4L489.9,210.9L489.1,208.8L485.9,207.5L484.5,209L482.9,209.8L483.6,211.1L481.3,211.2L480.2,211.3L478.2,209.3L476.6,208.6L474.4,209.1L473.6,210L474.7,211.6L474.5,209.7L476,209.1L477,210.6L478.9,212.1L477.2,212.9L475.1,212.3L475.1,214.5L476.5,214.6L476.4,216.4L478.2,217.3L478.5,220L479.2,221.9L481,221.4Z"/>
<path fill="#ffffcc" d="M511.6,210.6L513.5,211.6L514.8,211L517.7,212.3L515.6,214.2L513.9,213.9L513.3,214.7L510.9,214.3L511.1,215.8L513.4,215.6L516.2,216.4L520.2,216.1L520.6,215.5L520.1,214.9L521.8,213.6L523.1,213.1L525.4,213.5L525.7,211.8L528.3,211.5L528.7,210.5L531.5,209.1L531.6,208.5L530.2,208.1L528.8,207.2L525.6,206.9L522.1,206.8L521.4,207.1L518.1,206L517.1,206.6L517.3,208.1L513.5,207.2L512.3,207.6L512.1,208.7L512.9,209Z"/>
<path fill="#ffffcc" d="M512.5,213.3L512.6,212.1L509.9,212.7L509.7,214.3L509.1,215.8L507.3,215.7L507.1,216.8L508.8,217.4L509.8,219.4L509.3,222L510,222.3L511.3,221.5L512.2,222L512.6,220.8L513.9,220.8L514.1,220.5L514.1,219.4L514.7,218.5L516.1,219.1L516,219.9L516.7,220L517.1,222.2L518.2,223.1L518.8,222.5L519.7,222.2L520.7,221.1L522.2,221.3L524.5,221.3L523.7,219.8L523.5,218.8L522,218.2L521.4,218.4L520.2,216.1L516.2,216.4L513.4,215.6L511.1,215.8L510.9,214.3L513.3,214.7L513.9,213.9L513,214Z"/>
<path fill="#7fcdbb" d="M495.4,231L496.4,231.4L495.8,232.9L496.9,235L497.3,236.6L499.1,237.1L499.6,238.7L498,241.1L501.9,242.4L504,242L505.4,242.4L505.8,241.8L507.4,242L510.1,240.9L509.7,238.7L510.7,237.3L512.3,237.3L512.4,236.5L514.1,236.2L514.9,236.4L515.6,235.7L515.2,234.1L515.8,232.5L517,231.9L515.8,230.2L517.9,230.2L518.2,229.3L517.9,228.3L518.7,227.2L518.2,225.9L517.4,224.8L518.4,223.7L520.5,223.1L522.9,222.8L523.9,222.3L525.1,222L524.5,221.3L522.2,221.3L520.7,221.1L519.7,222.2L518.8,222.5L518.2,223.1L517.1,222.2L516.7,220L516,219.9L516.1,219.1L514.7,218.5L514.1,219.4L514.1,220.5L513.9,220.8L512.6,220.8L512.2,222L511.3,221.5L510,222.3L509.3,222L507.5,221.4L506.3,221.4L505.6,221.4L504.4,220.7L504.3,221.6L502.6,222.1L502.7,224.2L501.6,225L500,225.4L499.8,226.6L498.3,226.9L495.8,225.9L495.6,229.2Z"/>
<path fill="#7fcdbb" d="M522.8,255.4L522,253.1L520.6,251.8L520,249.8L518.4,248.7L520.4,245.9L523,246.1L524.9,243.4L525.8,240.7L527.4,238.1L527,236.2L528.5,234.7L526.4,233.4L525.2,231.7L523.9,229.4L524.7,228.2L528.2,228.9L530.5,228.5L532,226.3L528.2,225.2L527,223.2L525.1,222L523.9,222.3L522.9,222.8L520.5,223.1L518.4,223.7L517.4,224.8L518.2,225.9L518.7,227.2L517.9,228.3L518.2,229.3L517.9,230.2L515.8,230.2L517,231.9L515.8,232.5L515.2,234.1L515.6,235.7L514.9,236.4L514.1,236.2L512.4,236.5L512.3,237.3L510.7,237.3L509.7,238.7L510.1,240.9L507.4,242L505.8,241.8L505.4,242.4L504,242L501.9,242.4L498,241.1L499.3,242.5L500.4,244.1L502.7,245.2L503.1,247.5L504.2,247.9L504.6,249.1L501.5,250.5L501.1,253.5L504.2,253.1L507.8,253.1L511.9,252.6L513.9,254.6L514.8,256.5L516.5,257.1L517.8,255.4Z"/>
<path fill="#c7e9b4" d="M562.4,257.3L562.5,255.7L561,255L561.4,254.1L562.6,253.1L560.8,251.7L561.2,249.9L563.2,251.1L564.3,251.2L564.8,253L567,253.4L569.1,253.3L570.5,253.8L569.8,256L568.8,256.2L568.3,257.6L569.8,259L569.9,257.3L570.5,257.3L572.3,261.5L573.4,260.8L572.9,259.7L573.3,258.8L573,256.1L574.8,256.7L575.5,254.6L575.4,253.3L576.2,251.1L575.8,249.6L578.3,247.8L580,248.3L579.5,246.7L580.2,246.2L579.8,245.2L577.3,244.8L577.8,243.7L576.3,242.1L575,243.2L573,242.5L570.8,244.2L569.2,246.1L567.5,246.5L568.6,247.3L568.8,248.9L567,249L565,248.8L563.7,249.2L561.5,248.2L561.3,247.7L560.7,245.6L559.5,246.2L559.5,247.3L560.2,249L560.1,250L558.3,250.1L555.4,249.5L553.7,249.2L552.1,247.9L549,247.6L545.8,246.1L543.5,244.8L541.1,243.8L541.5,241.4L542.6,240.2L539.1,238.4L536.6,236.7L535.3,233.8L537,234.2L536.7,232.8L535.5,231.5L535.2,229.4L532,226.3L530.5,228.5L528.2,228.9L524.7,228.2L523.9,229.4L525.2,231.7L526.4,233.4L528.5,234.7L527,236.2L527.4,238.1L525.8,240.7L524.9,243.4L523,246.1L520.4,245.9L518.4,248.7L520,249.8L520.6,251.8L522,253.1L522.8,255.4L517.8,255.4L516.5,257.1L519.4,259.4L520.2,260.4L519.2,261.3L520.8,262.8L522.5,264.5L523.7,264.7L524.2,264.8L527.3,263.2L528,265.7L528.3,268.9L529.4,272.2L530.8,277.3L533.2,280.8L533.7,282.5L534.5,285.8L535.9,288.3L536.8,289.5L537.9,292.1L539.1,295.8L541.4,298.2L542.3,297.5L543,295.7L545.1,295L544.3,294.1L545.2,292.1L546.4,292L546.1,287.5L546.9,285.1L546.6,282.9L545.8,279.5L546.3,277.5L547.4,277.4L549.3,276.4L550.4,275.8L550.3,274.6L552.4,272.9L553.9,271.2L556,268.1L559.1,266.4L560.1,264.9L559.7,262.9L562.4,262.3L563.9,262.4L564.1,261.4L563.4,259.3Z"/>
<path fill="#7fcdbb" d="M554.2,245.4L552.1,244.2L550.3,243.7L549.3,242.4L548,242.1L545.4,240.3L543.4,239.6L542.6,240.2L541.5,241.4L541.1,243.8L543.5,244.8L545.8,246.1L549,247.6L552.1,247.9L553.7,249.2L555.4,249.5L558.3,250.1L560.1,250L560.2,249L559.5,247.3L559.5,246.2L556.8,246Z"/>
<path fill="#c7e9b4" d="M565.2,245.7L563.5,245.1L562.4,245.8L561.3,247.7L561.5,248.2L563.7,249.2L565,248.8L567,249L568.8,248.9L568.6,247.3L567.5,246.5L566.4,245.8Z"/>
<path fill="#7fcdbb" d="M572.6,263.3L572.3,261.5L570.5,257.3L569.9,257.3L569.8,259L568.3,257.6L568.8,256.2L569.8,256L570.5,253.8L569.1,253.3L567,253.4L564.8,253L564.3,251.2L563.2,251.1L561.2,249.9L560.8,251.7L562.6,253.1L561.4,254.1L561,255L562.5,255.7L562.4,257.3L563.4,259.3L564.1,261.4L565,261.6L565.7,261.9L566,261.5L567,262L567.5,260.5L567.1,259.4L569.2,259.6L570.4,261.1L571,262.3L571.3,263.7L572.2,265L571.7,262.9Z"/>
<path fill="#ffffcc" d="M550,296.7L548.8,294.8L547.2,293.4L546.4,297.6L546.9,301.4L548.1,303.5L550.1,302.8L551,302.1L551.3,299.4Z"/>
<path fill="#ffffcc" d="M629.9,211.7L630.3,209.9L631.8,210.7L633.7,210.8L632.6,209.4L635.2,208.3L635.1,206.8L637.4,208.4L636.6,207.1L637.6,207L636.1,203.9L634.1,201.7L635.3,200.8L638.1,201.3L637.8,198.8L636.7,196L636.8,195.1L636.3,192.8L633.5,193.5L632.4,194.5L629.3,194.5L626.8,192.1L623.2,190.3L619.2,189.5L616.7,187L614.8,185.5L613.3,184.4L610.1,181.9L607.7,181L604.2,180.2L601.7,180.3L599.6,180.8L598.9,182L600.4,182.6L601.4,184L600.9,184.8L601,187.4L601.7,188.6L599.9,190.1L596.9,189.2L597.1,191.1L597.3,193.6L598.4,194.7L599.4,194.4L601.6,194.7L602.6,193.8L604.7,194.6L607.6,196.4L608,197.3L606.2,197L603.4,197.4L602.4,198.1L601.9,199.8L599.3,200.8L598,202.1L595.6,201.6L594.3,201.4L594.1,203L595.3,204L596.1,204.9L595.1,205.7L594.3,207.1L592.3,208L589.2,208.2L586.2,209.1L584.4,210.4L583.1,209.6L580.6,209.6L576.7,208.1L574.5,207.7L571.9,208L567.3,207.5L565,207.5L563.1,206L561.1,203.6L559.7,203.3L556.4,201.7L553.4,201.3L550.8,200.9L549.6,199.8L549,196.8L546.7,194.8L543.3,193.8L541,192.5L539.6,190.7L538.9,190.9L538.2,192.6L536.6,192.8L537.6,195.4L537,196.5L532.6,195.7L533,200.3L532.2,200.8L528.5,201.9L532.1,206.3L530.9,207L531.6,208.5L531.5,209.1L528.7,210.5L528.3,211.5L525.7,211.8L525.4,213.5L523.1,213.1L521.8,213.6L520.1,214.9L520.6,215.5L520.2,216.1L521.4,218.4L522,218.2L523.5,218.8L523.7,219.8L524.5,221.3L525.1,222L527,223.2L528.2,225.2L532,226.3L535.2,229.4L535.5,231.5L536.7,232.8L537,234.2L535.3,233.8L536.6,236.7L539.1,238.4L542.6,240.2L543.4,239.6L545.4,240.3L548,242.1L549.3,242.4L550.3,243.7L552.1,244.2L554.2,245.4L556.8,246L559.5,246.2L560.7,245.6L561.3,247.7L562.4,245.8L563.5,245.1L565.2,245.7L566.4,245.8L567.5,246.5L569.2,246.1L570.8,244.2L573,242.5L575,243.2L576.3,242.1L577.8,243.7L577.3,244.8L579.8,245.2L581,245L582.1,246.5L583.2,247.2L583.8,249.2L584.1,251.3L582.4,253.5L582.7,256.6L585,256.2L585.9,258.6L587.4,259.1L587.1,261.2L589,262.2L590,262.7L591.6,262L591.8,263L592.1,263.7L593.3,263.7L592.5,260.7L593.6,260.4L594.7,259.7L596.5,259.7L598.7,259.4L600.3,258L601.6,259L603.7,259.5L603.6,261L604.9,262.1L607.3,262.7L608.3,262.3L611.4,263.1L611.1,264.1L612,266.1L613.2,265.9L613.6,263.1L615.9,262.7L618.8,261.4L619.8,260.1L620.5,260.7L620.8,261L621.9,259.8L624.4,259.5L627.1,257.3L629.7,254.9L631.1,251.8L632.1,248.4L632.9,245.5L634,245.3L634,243.2L633.7,241.1L632.1,240.3L632,240.1L631.1,238.9L632.3,238.2L631.6,236.2L629.4,234.2L627.2,231.8L625.3,229.3L622.4,227.8L622.7,226L624.3,224.7L624.7,223.3L627.4,222.6L626.5,221.2L625,221.1L622.6,220.1L621.1,222L619,221.2L618.4,220L616.5,219.6L614.6,217.8L615.1,216.7L617.1,216.5L617.6,214.8L619.1,213L620.5,212.1L622.3,213.5L621.5,215.2L622.5,216.2L621.9,217.4L623.9,216.7L624.8,215.5L627.4,214.8L628.3,213.1ZM614,268.7L614.8,267.6L614.1,266.6L612.8,266.5L610.5,267.3L609.6,268.4L610,270.7L612,271.5L613.7,270.2Z"/>
<path fill="#ffffcc" d="M636.9,253.7L635.7,252.9L634.3,254.9L633.5,257.5L634.2,259.4L635.8,261.6L636.3,259.5L636.8,255.3Z"/>
<path fill="#ffffcc" d="M543.3,193.8L546.7,194.8L549,196.8L549.6,199.8L550.8,200.9L553.4,201.3L556.4,201.7L559.7,203.3L561.1,203.6L563.1,206L565,207.5L567.3,207.5L571.9,208L574.5,207.7L576.7,208.1L580.6,209.6L583.1,209.6L584.4,210.4L586.2,209.1L589.2,208.2L592.3,208L594.3,207.1L595.1,205.7L596.1,204.9L595.3,204L594.1,203L594.3,201.4L595.6,201.6L598,202.1L599.3,200.8L601.9,199.8L602.4,198.1L603.4,197.4L606.2,197L608,197.3L607.6,196.4L604.7,194.6L602.6,193.8L601.6,194.7L599.4,194.4L598.4,194.7L597.3,193.6L597.1,191.1L596.9,189.2L594.7,189.4L593.1,188.6L591.7,188.3L589.9,190.1L587.5,190.5L586,191.1L583.2,190.7L581.4,190.7L579.4,189.4L576.7,188.2L574.5,187.9L572.2,188.2L570.6,188.7L567.1,187.6L565.6,185.7L562.9,185.1L560.9,184.8L558.1,183.7L557.6,186.4L559.2,187.8L558.2,189.6L555,189L552.9,188.9L551,187.7L548.8,187.6L546.7,186.9L544.3,188.1L541.6,190.2L539.6,190.7L541,192.5Z"/>
<path fill="#ffffcc" d="M635.1,206.8L635.2,208.3L632.6,209.4L633.7,210.8L631.8,210.7L630.3,209.9L629.9,211.7L628.3,213.1L627.4,214.8L628.8,215.5L630.2,215.7L630.5,216.1L630.5,216.2L630.7,217.6L631.1,218L630.8,218.3L630.7,219.5L631.5,219.9L632.2,220.1L632.5,220.6L633,220.4L633,219.9L634.3,220.4L634.3,220.2L635.3,220.3L635.6,219.1L637.1,219L637.9,218.8L637.9,218.2L636.1,217L635,216.6L635.1,216.3L634.6,215.2L635.2,214.5L636.4,214.1L636.7,213.3L636.9,212.9L637.7,212.3L636.5,210.4L636.7,209.5L637.1,208.7L638,208.8L637.4,208.4Z"/>
<path fill="#ffffcc" d="M637.9,218.8L637.1,219L635.6,219.1L635.3,220.3L634.3,220.2L634.3,220.4L636.8,222.7L635.4,223.1L637.6,225.8L638.1,227.8L638.9,229.2L640.8,229L642.1,227.9L643.8,227.4L644,226L642.6,223L641.2,221.3L637.9,218.2Z"/>
<path fill="#ffffcc" d="M665.5,219.3L666,216.7L664.9,214.6L661.6,211L659.6,211.5L659.7,213.1L661.7,216L662.2,219.2L661.5,220.2L659.6,222.8L657.6,221.6L657.6,226.2L655,225.7L651.1,226.5L650.3,228.2L648.7,229.6L648.2,231.3L646.5,232L648.1,233.8L649.8,234.6L650.2,236.9L651.6,238L652.6,236.9L652.3,232.4L649.3,230.5L651.8,230.5L653.9,229.2L657.4,228.6L658.4,230.6L660.3,231.6L662.1,228.6L665.8,228.5L668,227.2L668.2,225.4L667.2,224.1L667,222ZM664,204.3L662.2,203.8L660,202.9L656.3,200.6L655.7,200.2L656.5,202.2L658.3,205.8L656.1,206L656.4,207.9L658.3,210.5L660.6,210.5L660,207.6L664.4,209.4L664.6,206.8L667.2,206.1L664.7,203.2ZM654.7,230.4L653.3,230L652.8,231.6L653.3,232.8L655,233.6L655,232.1L655.8,231.5L657.1,232.3L657.7,230.7L657,229.8L655.1,229.3Z"/>
<path fill="#ffffcc" d="M347.6,220.3L347.9,219.6L347.2,218.8L347.8,217.1L347,215.5L347.9,215.3L348.1,214.1L348.4,213.7L348.5,211.7L349.5,211L349,209.7L347.7,209.6L347.4,209.9L346.1,209.9L345.6,208.7L344.8,209.1L344,209.7L344,210.6L344.4,211.5L344.4,212.6L343.9,214.2L343.7,215.2L342.8,216.2L342.6,217.8L343.1,218.8L344,219.1L344.2,220.7L343.8,222.7L344.9,222.4L346,222.8L346.9,222.1L346.8,221.3Z"/>
<path fill="#ffffcc" d="M344.8,209.1L345.6,208.7L346.1,209.9L347.4,209.9L347.7,209.6L349,209.7L349.5,211L348.5,211.7L348.4,213.7L348.1,214.1L347.9,215.3L347,215.5L347.8,217.1L347.2,218.8L347.9,219.6L347.6,220.3L346.8,221.3L346.9,222.1L348.9,222.5L349.5,224L350.3,224.9L351.3,225.1L352.2,224.2L353.6,223.2L355.6,223.3L358.4,223.2L359.9,221.2L361.5,220.7L362,219L363.2,217.8L362.4,216.4L363.2,214.3L364.5,212.8L364.7,212L367.4,211.4L369.4,209.7L369.3,208.2L366.8,208.5L364.5,207.3L363.7,207.9L359.9,206.7L359,205.7L355.7,205.6L353.9,205.8L351.7,205.3L348.9,205.3L346.4,204.9L343.3,206.7L343.8,207.3L344.2,207.9L344,209.7Z"/>
<path fill="#ffffcc" d="M381,208.7L381.5,210.5L382.5,211L383.1,209L382.7,206.8L381.4,207.8ZM377.6,203.6L377,201.6L377.7,200.8L377,199.8L377.1,199.1L376.3,198L375.4,198.4L375.4,197.2L376.8,195.8L376.7,195.2L377.6,195.4L378.2,195L378.4,193.1L379.3,191.4L376.4,190.9L375.4,190.3L374.9,190.3L374.4,190.1L372.6,188.9L371.6,189.1L370.2,187.9L369.2,186.9L368.3,186.9L368,186L366.3,186.5L365.7,188.6L361,190.6L359.1,189.5L359.7,192.4L356.3,191.7L353.7,192.3L353.9,194.1L357,195.1L358.4,196.4L360.6,199.1L360.1,204.2L359,205.7L359.9,206.7L363.7,207.9L364.5,207.3L366.8,208.5L369.3,208.2L369.5,206.6L372.5,205.8L376.7,206.5L378.5,205L378.7,203.9Z"/>
<path fill="#ffffcc" d="M369.2,186.9L370.2,187.9L371.6,189.1L372.6,188.9L374.4,190.1L374.6,188.7L375.1,188.6L375.3,186.9L374.2,186.3L372.9,185.2L371,185.7L369.6,185.5L368,186L368.3,186.9Z"/>
<path fill="#ffffcc" d="M372.2,181.2L370.6,184.8L369.6,185.5L371,185.7L372.9,185.2L374.2,186.3L375.3,186.9L374.8,184.3L376,184.3L376.5,183.3L376.9,181L376.5,180.2L374.8,180.1Z"/>
<path fill="#ffffcc" d="M375.4,190.3L375.5,189.2L375.1,188.6L374.6,188.7L374.4,190.1L374.9,190.3Z"/>
<path fill="#ffffcc" d="M380.9,176.8L379.4,176.5L379.6,177.9L380.1,178.8L378.8,180.1L378.5,179.5L376.8,179.7L376.5,180.2L376.9,181L376.5,183.3L376,184.3L374.8,184.3L375.3,186.9L375.1,188.6L375.5,189.2L375.4,190.3L376.4,190.9L379.3,191.4L378.4,193.1L378.2,195L379.9,195L380.3,194.4L382.5,195.2L383.2,195.1L384.2,195.8L384.5,195.1L386.3,195.2L387.7,194.7L388.7,194.8L389.3,195.3L389.5,194.9L389.1,193.2L389.8,192.9L390.5,191.7L389.2,190.7L388.2,190L387.9,189L387.5,188.2L388.9,187.7L389.6,187.1L391,186.6L391.4,186.1L392,186.4L392.8,186.1L391.9,184.5L392,183.6L391.4,182.3L390.6,181.4L391.1,180.8L390.5,179.5L389.5,178.7L387.2,177.7L386.2,178.4L384.3,178.9L384.2,178L382.2,177.4L382.1,176.5Z"/>
<path fill="#ffffcc" d="M379.9,195L378.2,195L377.6,195.4L376.7,195.2L376.8,195.8L375.4,197.2L375.4,198.4L376.3,198L377.1,199.1L378,199.7L379,199.6L380.1,198.7L380.5,199.1L381.4,199L381.8,198L383.4,198.3L384.2,197.9L384.3,196.8L383.3,196.7L382.4,196.3L382.6,195.6L382.5,195.2L380.3,194.4Z"/>
<path fill="#ffffcc" d="M397.3,192.5L396.3,192L395.4,192.1L393.7,191.3L393.1,191.5L392,192.6L390.5,191.7L389.8,192.9L389.1,193.2L389.5,194.9L389.3,195.3L388.7,194.8L387.7,194.7L386.3,195.2L384.5,195.1L384.2,195.8L383.2,195.1L382.5,195.2L382.6,195.6L382.4,196.3L383.3,196.7L384.3,196.8L385.6,197.2L385.8,196.7L387.8,196.2L388.3,197.1L391.3,197.8L393,198L394,197.4L395.8,197.4L396.1,196.9L396.7,195.3L396.2,194.7L397.4,194.7L397.4,193.7L397.2,192.8Z"/>
<path fill="#ffffcc" d="M388.3,197.1L387.8,196.2L385.8,196.7L385.6,197.2L384.3,196.8L384.2,197.9L383.4,198.3L381.8,198L381.4,199L380.5,199.1L380.1,198.7L379,199.6L378,199.7L377.1,199.1L377,199.8L377.7,200.8L377,201.6L377.6,203.6L378.7,203.9L378.5,205L379.4,204.8L380.5,203.6L381.5,203.3L383.2,204.1L384.2,204.4L385,207L386.5,208.5L388.5,210.2L390.2,211.3L391.8,211.5L392.8,212.5L394.2,213L394.9,214.1L395.8,214.4L396.5,215.8L397.4,217.3L397,217.8L396.7,219.1L396.7,219.2L396.7,220L397.6,219.8L398.6,217.6L399.5,217.4L399.6,216.1L398,215.1L398.8,213.4L400.7,213.8L401.9,215.1L402.3,214.1L402,213.6L400.1,212.3L398.5,211.5L396.5,210.6L397.1,210.1L396.5,209.5L394.9,209.5L392.4,207.4L391.2,205.3L389.2,204L388.4,202.7L388.6,201.9L388.4,200.7L390.1,199.8L391.7,200.1L391.2,199L391.3,197.8ZM390,219.4L389.7,220.8L392.8,222.1L393.9,222.4L395.6,223.4L396,222L395.6,221.2L396.3,219.2L394.7,219.4L392.5,219.7ZM381.4,212.2L380.3,212.1L380.8,213.6L381,216.7L381.8,217.4L382.7,216.5L383.7,216.7L383.8,213.3L382.5,211.4Z"/>
<path fill="#ffffcc" d="M357.4,167.5L355.1,167.7L353.6,167.5L352.1,169.5L351.3,172L352.2,173.3L352.3,175.6L353.3,174.5L353.9,175.2L353.2,176.3L353.7,176.9L356,177.3L357.3,178.9L357,180.4L354.1,180.1L353.6,181.8L354.7,183.1L352.6,183.9L353.1,184.9L356.2,185.3L354.4,185.9L351.4,188.5L352.5,189L353.9,188L355.8,188.3L357.1,187.1L358,187.6L361.4,187L364.1,187L365.9,185.7L365.1,184.4L366.1,183.6L366.3,182L363.9,181.6L363.4,180.6L362.2,177.7L360.9,177.3L359,174.2L357,174L358.8,171.8L359.3,169.8L357.2,169.8L355.3,170.2ZM349.5,178.7L350.9,179.2L352.1,177.5L350,176L348.4,176.1L348.7,177.4L348.3,178.7Z"/>
<path fill="#ffffcc" d="M349.5,178.7L348.3,178.7L348.7,177.4L348.4,176.1L346.9,177.2L344.2,179.2L345,181.7L343.3,184.3L346.1,184.7L349.6,183.2L351.2,181L350.9,179.2Z"/>
<path fill="#ffffcc" d="M335.1,149L332.1,150.2L330,149.6L327.2,150.8L324.8,149.3L322.1,149.6L320.6,151.1L324.2,151.6L324.1,152.3L320.9,152.8L324.6,153.9L322.7,154.9L327.5,155.7L329.8,156L331.4,155.6L336.7,154L339.2,152.2L337.4,150.7L338,149.2Z"/>
<path fill="#ffffcc" d="M386.6,173.7L383.9,174.5L384.2,175.5L386.3,176.9L387.3,174.9ZM382.1,176.5L381.5,175.3L382.8,173.5L383.4,173.8L383.8,172.8L382.7,172.5L382.6,172.1L382.4,171.8L383,171L382.9,169.7L381.5,170.4L380.8,171.1L379.2,171.2L378.7,172L378.4,172.6L378.6,175.1L379.4,176.5L380.9,176.8Z"/>
<path fill="#ffffcc" d="M401.1,140.9L398.4,140.7L394.9,141.7L390.7,144.5L388.1,146.1L384.5,150.5L381.6,153.7L378.2,156.1L373.6,158.1L372,159.6L372.8,165.1L373.6,167.6L376.2,168.9L378.7,168.3L382.2,165.5L383.6,167L384.3,165.6L385.6,164L386,161.2L384.7,160L384.3,156.9L385.3,154.7L387,154.7L387.6,153.8L386.8,153L389.2,149.8L390.6,147.3L391.5,145.7L393.1,145.7L393.3,144.5L396.6,144.8L396.6,143.3L397.6,143.3L398.5,142.7L400.6,143.9L402.8,143.7L404.7,144.3L406.1,143.3L406.5,141.7L408.9,141L411.3,141.8L410.9,143.4L412.2,143.1L414.9,142.3L412.7,140.9L414.6,140.3L409,138.7L406.2,139.2L403.2,139.1ZM394.2,120.5L392.1,120.1L387.8,120.5L389.5,121.3L391.6,121.4L392,121.9L396.4,122.2L400.5,122L402.3,121L399.3,120.4L395.5,120ZM393.8,124.4L394.8,125L393.9,125.5L396.7,125.9L399.8,125.1L397.5,124.7L396.7,124ZM389.3,121.6L388.9,121.5L387.3,121L385.2,121.1L384.8,121.7L382.8,121.7L381.9,121.1L378.1,121.7L379.4,123.2L382.5,124.8L384.9,125.3L383.6,126L387.1,127.2L388.9,127.1L389.3,125.5L390.5,125.2L391,123.8L394.5,123L389.4,121.7Z"/>
<path fill="#ffffcc" d="M404.5,150.2L403.7,149.3L403,145.9L400,144.3L397.6,143.3L396.6,143.3L396.6,144.8L393.3,144.5L393.1,145.7L391.5,145.7L390.6,147.3L389.2,149.8L386.8,153L387.6,153.8L387,154.7L385.3,154.7L384.3,156.9L384.7,160L386,161.2L385.6,164L384.3,165.6L383.6,167L385.3,170.4L386.6,172.5L387.1,173.2L387.2,173.4L387.7,175L387.9,175.5L390.1,175.4L391,173.5L393.3,173.7L394.2,171.4L394.4,167.3L396.3,166.8L397.6,164.1L395.7,162.7L394.2,161.1L395,157.7L398.2,155.7L400.7,153.9L400.2,152.4L401.6,150.9Z"/>
<path fill="#ffffcc" d="M417.7,160L419.1,158.7L419.5,157.5L416.5,155.9L416.8,154.4L414.8,152.6L415.5,150.7L412.9,148.1L414.1,146.4L411.1,144.9L410.9,143.4L411.3,141.8L408.9,141L406.5,141.7L406.1,143.3L404.7,144.3L402.8,143.7L400.6,143.9L398.5,142.7L397.6,143.3L400,144.3L403,145.9L403.7,149.3L404.5,150.2L407.1,151.3L407.5,152.3L406.4,152.7L402.8,155.2L401.5,156.7L400.8,158.1L402.1,160.2L402,162.5L403.9,163.3L405.2,164.6L408.1,164.1L411.2,163.2L414.5,163.1Z"/>
<path fill="#ffffcc" d="M408.1,168.4L408.7,168.2L408.7,169.6L410.3,169.1L411.1,169.4L412.9,170.3L414.5,170.4L415.2,169.6L414.2,167.3L415.2,165.9L414.8,165.5L412.9,165.6L410.8,165.2L408.6,165.5L406.4,166.2L406.8,167.6Z"/>
<path fill="#ffffcc" d="M405.3,173.1L408.5,173.3L410.4,173L410.7,173.6L411.8,173.7L413.8,174.9L414.9,174.5L416.8,173.5L415.9,172.1L415.5,170.9L414.5,170.4L412.9,170.3L411.1,169.4L410.3,169.1L408.7,169.6L408.7,171.4L408,171.5L407.2,171.5L405.4,169.7L403.7,170.5L403,172L403.2,173.9Z"/>
<path fill="#ffffcc" d="M406.9,176.8L406.8,177.4L407.1,178.1L408.1,178.3L408.7,179.1L410.6,179.1L412.5,178.2L412.7,176.8L414.2,176L413.8,174.9L411.8,173.7L410.7,173.6L410.4,173L408.5,173.3L405.3,173.1L403.2,173.9L403.9,175.9L406,176.4Z"/>
<path fill="#ffffcc" d="M390.6,181.4L391.4,182.3L392,183.6L391.9,184.5L392.8,186.1L393.9,186.9L395.4,187.1L395.3,187.8L396.4,188.3L396.7,187.7L398.1,188L398.3,188.8L399.8,188.9L400.9,190.2L401,190.3L401.8,190L402.9,190.9L404.1,190.3L405,190.6L406.4,190.2L408.5,191.2L408.9,191.4L408.3,190.2L409.8,188.1L410.8,187.8L410.9,187.1L409.6,184.9L409.4,183.8L408.6,182.6L409.7,182.1L409.6,181.2L408.9,180.2L408.7,179.1L408.1,178.3L407.1,178.1L403.5,178.1L401.1,177.8L399.2,177.8L399,177.2L397,176.8L394.7,177.6L391.8,178.8L390.5,179.5L391.1,180.8Z"/>
<path fill="#ffffcc" d="M398.4,191.9L399.1,191.7L399.1,191.4L399.5,191.3L399.6,190.8L400,190.6L400.3,190.2L400.9,190.2L399.8,188.9L398.3,188.8L398.1,188L396.7,187.7L396.4,188.3L395.3,187.8L395.4,187.1L393.9,186.9L392.8,186.1L392,186.4L391.4,186.1L391,186.6L389.6,187.1L388.9,187.7L387.5,188.2L387.9,189L388.2,190L389.2,190.7L390.5,191.7L392,192.6L393.1,191.5L393.7,191.3L395.4,192.1L396.3,192L397.3,192.5L397.5,191.9Z"/>
<path fill="#ffffcc" d="M400,190.6L399.6,190.8L399.5,191.3L399.1,191.4L399.1,191.7L398.4,191.9L397.5,191.9L397.3,192.5L397.2,192.8L397.4,193.7L398.5,194.3L399.3,194.6L401,194.3L401.1,193.8L401.9,193.7L402.8,193.3L403.1,193.5L404,193.1L404.4,192.6L405.1,192.4L407.3,193.2L407.7,192.9L408,191.9L408.5,191.2L406.4,190.2L405,190.6L404.1,190.3L402.9,190.9L401.8,190L401,190.3L400.9,190.2L400.3,190.2Z"/>
<path fill="#ffffcc" d="M396.9,197.8L397.6,198.1L399.3,199.2L401,199.7L401.7,199.3L403.3,198.7L404.5,198.8L406.1,198.3L407.2,196.6L408,194.8L409.1,194.3L408.9,193.6L407.7,192.9L407.3,193.2L405.1,192.4L404.4,192.6L404,193.1L403.1,193.5L402.8,193.3L401.9,193.7L401.1,193.8L401,194.3L399.3,194.6L398.5,194.3L397.4,193.7L397.4,194.7L396.2,194.7L396.7,195.3L396.1,196.9L396.5,196.9Z"/>
<path fill="#ffffcc" d="M393.1,200L393.8,200.4L394.6,200.5L394.6,199.8L395.3,199.5L395.4,198.5L396.9,197.8L396.5,196.9L396.1,196.9L395.8,197.4L394,197.4L393,198L391.3,197.8L391.2,199L391.7,200.1L391.3,200.4L392.7,200.4Z"/>
<path fill="#ffffcc" d="M400,206.7L399.1,205.6L398.3,205.1L397.2,204.1L396.7,203.3L395.6,202.1L396,201.1L396.8,201.7L397.2,201.1L398.1,201.1L399.9,201.5L401.4,201.4L402.4,202L403.1,201L402.3,200.3L401.7,199.3L401,199.7L399.3,199.2L397.6,198.1L396.9,197.8L395.4,198.5L395.3,199.5L394.6,199.8L394.6,200.5L393.8,200.4L393.1,200L392.7,200.4L391.3,200.4L391.2,200.4L391.2,201.3L391.9,202.2L392.5,201.1L393.8,201.4L393.9,202.3L394.9,203.4L394.5,203.6L396.4,205.5L398.4,206.3L399.7,207.2L401.7,208.2L401.9,207.7Z"/>
<path fill="#ffffcc" d="M399.9,201.5L398.1,201.1L397.2,201.1L396.8,201.7L396,201.1L395.6,202.1L396.7,203.3L397.2,204.1L398.3,205.1L399.1,205.6L400,206.7L401.9,207.7L402.1,206.3L402.7,205.7L403.1,205.5L403.6,205.3L403.8,204.1L402.7,203.1L403.1,202L402.4,202L401.4,201.4Z"/>
<path fill="#ffffcc" d="M404.5,198.8L403.3,198.7L401.7,199.3L402.3,200.3L403.1,201L402.4,202L403.1,202L402.7,203.1L403.8,204.1L403.6,205.3L403.1,205.5L403.7,205.9L404,206.3L404.8,206.5L405.6,207.1L405.5,207.3L405.9,207.1L406.2,206.2L406.5,206.1L406.8,206.5L407.2,206.6L407.5,207L407.9,207.2L408.4,207.6L408.7,207.6L408.5,208.3L408.3,208.6L408.4,208.7L409.1,208.6L410,208.6L410.3,208.2L410.1,207.9L410.3,207.1L411.1,206.3L409.9,205.2L409.6,204.2L410.1,203.6L409.6,203.2L410.1,202.7L409.5,202.4L409,203L407.7,202.2L407.4,201.2L406.1,200.6L405.8,199.8Z"/>
<path fill="#ffffcc" d="M406.7,209.3L407.9,208.8L408.4,208.7L408.3,208.6L408.5,208.3L408.7,207.6L408.4,207.6L407.9,207.2L407.5,207L407.2,206.6L406.8,206.5L406.5,206.1L406.2,206.2L405.9,207.1L405.5,207.3L405.1,207.9L405.6,208.6L406.1,208.8L406.4,209.8L406.7,209.8Z"/>
<path fill="#ffffcc" d="M403.6,208.9L404.4,207.6L404.6,208.1L405.1,207.9L405.5,207.3L405.6,207.1L404.8,206.5L404,206.3L403.7,205.9L403.1,205.5L402.7,205.7L402.1,206.3L401.9,207.7L401.7,208.2L402.7,208.7L403.3,209.5L403.8,209.7Z"/>
<path fill="#ffffcc" d="M406.9,213.4L407.5,213.1L407.5,212.4L406.6,211.7L406.2,210.6L406.4,209.8L406.1,208.8L405.6,208.6L405.1,207.9L404.6,208.1L404.4,207.6L403.6,208.9L403.8,209.7L404.2,210.1L404,210.9L403.9,212.7L404.2,213.9L405.5,214.8L405.6,215.4L405.9,215.6L406.8,214.3Z"/>
<path fill="#ffffcc" d="M406.6,211.7L407.5,212.4L408.9,212.2L409.6,211.6L410.8,211.6L411.1,211.2L411.5,211.1L411.2,209.4L410,208.6L409.1,208.6L408.4,208.7L407.9,208.8L406.7,209.3L406.7,209.8L406.4,209.8L406.2,210.6Z"/>
<path fill="#ffffcc" d="M414.1,226.9L416.8,227.4L416.8,227.8L419.9,227.6L420.1,226.8L419,227.1L419,226.7L417.4,226.5L415.7,226.6L414.4,225.7ZM419.1,210.5L418,209.8L418.2,211.1L416.3,211.4L414.7,210.5L413.1,211.2L411.5,211.1L411.1,211.2L410.8,211.6L409.6,211.6L408.9,212.2L407.5,212.4L407.5,213.1L406.9,213.4L406.8,214.3L405.9,215.6L406.2,216.3L407.4,217.8L408.3,219L408.8,220.7L409.8,222.8L411.6,223.9L413.1,223.9L412.1,221.6L413.4,221.3L412.7,220L414.7,220.7L414.6,219.2L413.4,218.4L412.1,217.2L412.9,216.7L411.7,215.5L411.1,213.9L411.4,213.3L412.7,214.7L413.9,214.7L414.9,214.3L413.3,212.8L415.8,212.1L416.9,212.4L418.2,212.4L418.7,212.1Z"/>
<path fill="#ffffcc" d="M419.6,203.8L417.3,204.4L416.3,205L413.2,204.9L411.6,204.5L410.8,204.7L410.1,203.6L409.6,204.2L409.9,205.2L411.1,206.3L410.3,207.1L410.1,207.9L410.3,208.2L410,208.6L411.2,209.4L411.5,211.1L413.1,211.2L414.7,210.5L416.3,211.4L418.2,211.1L418,209.8L420.1,209L421.9,209.4L421.1,207.9L421.6,206.1L422.5,205L421.3,204.7Z"/>
<path fill="#ffffcc" d="M422.2,200.9L421.2,200.4L420.7,199.2L420.8,198.1L420.5,197L419.1,195.5L418.3,194.4L417.6,193.7L417,193.4L416.1,193.4L415.7,194L414.2,194.3L413.6,194.6L412.5,194L411.2,194L409.9,193.7L409.1,194.3L408,194.8L407.2,196.6L406.1,198.3L404.5,198.8L405.8,199.8L406.1,200.6L407.4,201.2L407.7,202.2L409,203L409.5,202.4L410.1,202.7L409.6,203.2L410.1,203.6L410.8,204.7L411.6,204.5L413.2,204.9L416.3,205L417.3,204.4L419.6,203.8L421.3,204.7L422.5,205L422.7,201.9L423.3,202.1L424.3,201.6L424.1,200.9L423.1,200.5Z"/>
<path fill="#ffffcc" d="M418.3,194.4L419.1,195.5L420.5,197L420.8,198.1L420.7,199.2L421.2,200.4L421.7,200.1L421.9,199.2L422.4,198.4L422.2,198L422.6,197.8L422.8,198.1L424.1,198.2L424.6,198L424.2,197.7L424.2,197.4L423.4,196.7L423,195.6L422.2,195.2L422.2,194.4L421.2,193.7L420.3,193.6L418.7,192.8L417.4,193L417,193.4L417.6,193.7Z"/>
<path fill="#ffffcc" d="M441.8,194.4L443.7,194.2L443.9,193.4L443.1,192L443.7,190.7L443.5,189.9L440.3,189.1L439.2,189.1L437.7,187.9L436.3,188.3L433.5,187.4L433.5,187L432.5,185.9L430.9,185.7L430.6,185L431,184.5L429.5,183L427.5,183.3L426.8,183.1L426.5,183.7L425.7,183.6L424,183.8L423.5,184.3L423.6,185.6L422.8,185.3L421,185.5L420.4,184.9L419.7,185.3L418.9,185L417.4,184.9L415.1,184.3L413,184.1L411.5,184.2L410.5,184.8L409.6,184.9L410.9,187.1L410.8,187.8L409.8,188.1L408.3,190.2L408.9,191.4L408.5,191.2L408,191.9L407.7,192.9L408.9,193.6L409.1,194.3L409.9,193.7L411.2,194L412.5,194L413.6,194.6L414.2,194.3L415.7,194L416.1,193.4L417,193.4L417.4,193L418.7,192.8L420.3,193.6L421.2,193.7L422.2,194.4L422.2,195.2L423,195.6L423.4,196.7L424.2,197.4L424.2,197.7L424.6,198L424.1,198.2L422.8,198.1L422.6,197.8L422.2,198L422.4,198.4L421.9,199.2L421.7,200.1L421.2,200.4L422.2,200.9L423.1,200.5L424.1,200.9L425.5,199L426,197.6L427.8,197.3L428.1,198.2L431.4,198.9L432.1,199.5L430.3,200.3L430,200.8L432.4,201.6L432.1,202.8L433.4,203.3L435.9,201.8L438.1,201.4L438.3,200.7L438.4,200.4L436.3,200.6L435.2,200L434.8,198.4L436.4,197.4L438.3,197.3L439.5,196.5L441,196.3L440.9,195.1Z"/>
<path fill="#ffffcc" d="M409.6,181.2L409.7,182.1L408.6,182.6L409.4,183.8L409.6,184.9L410.5,184.8L411.5,184.2L413,184.1L415.1,184.3L417.4,184.9L418.9,185L419.7,185.3L420.4,184.9L421,185.5L422.8,185.3L423.6,185.6L423.5,184.3L424,183.8L425.7,183.6L424.9,182L424.3,181.2L424.6,181L426.2,181.1L426.9,180.5L426.2,179.8L424.8,179.4L424.8,179L423.9,178.5L422.4,176.9L422.7,176.2L422.2,175.1L420.2,174.5L419.3,174.8L418.9,174.1L416.8,173.5L414.9,174.5L413.8,174.9L414.2,176L412.7,176.8L412.5,178.2L410.6,179.1L408.7,179.1L408.9,180.2Z"/>
<path fill="#ffffcc" d="M438.6,237.5L440.5,242L441.2,237.8L441.1,236.8L440.1,237.1L440.1,236.4L440.6,236.1L440,235.8L440.3,234L441.1,234.4L441.4,233.6L441.6,233.2L441.5,232.1L440.9,232.1L440.7,232.6L440,232.6L439.7,233.3L439.5,235.2L439,236.5L439.2,236.6Z"/>
<path fill="#ffffcc" d="M440,235.8L440.6,236.1L440.1,236.4L440.1,237.1L441.1,236.8L441.3,236L441.1,234.4L440.3,234Z"/>
<path fill="#ffffcc" d="M440.9,232.1L441.5,232.1L441.9,230.7L442.9,229.7L442.4,228.7L441.4,228.5L441.5,228.5L440.5,230.4L440,232.6L440.7,232.6Z"/>
<path fill="#ffffcc" d="M442.4,228.7L442.9,229.7L441.9,230.7L441.5,232.1L441.6,233.2L441.4,233.6L444,234.6L447.9,231.8L452.4,229.1L452.8,226L452.3,224L453.4,223.4L454.3,221.8L451.9,222.2L450.7,222.1L448.4,223.1L446.6,223.1L445.4,222.6L443.1,223.4L442.3,222.8L442.4,224.3L441.9,224.9L441.4,225.5L441,226.5L441.1,226.9L441.4,228.5Z"/>
<path fill="#ffffcc" d="M444,241.9L444.4,241L446.1,240.7L446.4,239.8L447.1,239.3L444.6,236.7L448.8,235.4L449.2,235L447.9,231.8L444,234.6L441.4,233.6L441.1,234.4L441.3,236L441.1,236.8L441.2,237.8L440.5,242L440.6,241.8L440.7,241.9L440.6,242.3L443.1,242.7Z"/>
<path fill="#ffffcc" d="M469,238.1L468.3,238.1L468.4,236.2L467,234.2L464.1,232.8L462.2,230.3L462.4,228.2L463.4,227.4L463,225.8L461.4,225L459.5,221.9L458.6,222.4L457.7,221.7L455.1,221.4L454.3,221.8L453.4,223.4L452.3,224L452.8,226L452.4,229.1L447.9,231.8L449.2,235L452,235.7L455.5,237.5L462.3,242.8L466.5,243L467.8,240.5L469.3,240.7L470.6,240.8L469.2,239.5Z"/>
<path fill="#ffffcc" d="M467.8,240.5L466.5,243L468.5,243.3L469.2,244.5L470.8,244.4L469.8,242.5L469.9,241.9L469.3,240.7Z"/>
<path fill="#ffffcc" d="M461.5,275.5L461.2,274.4L461.8,273.1L462.7,273.8L463.3,273.6L466,273.5L466.4,273.8L468.6,274L469.5,273.9L470.1,274.8L471.1,274.3L472.6,271.6L474.6,270.4L481.1,269.4L487.7,266.8L488.8,261.6L487.6,259.7L487.2,260.3L480.2,259L479.2,256.3L479,255.7L478.5,254.7L477.9,254.9L477.2,254.4L476.9,254L476.4,252.9L475.7,252.1L475.3,251.3L475.4,250.4L475.2,249.3L473.5,248.2L473,247.3L471.9,246.7L470.8,244.4L469.2,244.5L468.5,243.3L466.5,243L462.3,242.8L455.5,237.5L452,235.7L449.2,235L448.8,235.4L444.6,236.7L447.1,239.3L446.4,239.8L446.1,240.7L444.4,241L444,241.9L443.1,242.7L440.6,242.3L440.4,243.4L440.4,244.3L440.2,245.7L441.3,245.7L442.6,247.5L444.1,249.6L445.1,251.6L445.8,252.2L446.6,253.5L446.5,254.1L447.3,255.6L448.5,256.1L449.7,257.1L450.4,258.6L451.2,260L451.1,261.6L451.5,263.4L453.2,265.9L454.2,266.3L455.9,268.1L456.7,270.3L458,272.5L459.2,273.4L459.5,274.4L460.2,275.2L460.6,276.3Z"/>
<path fill="#c7e9b4" d="M483.2,273.7L481.1,269.4L474.6,270.4L472.6,271.6L471.1,274.3L470.1,274.8L469.5,273.9L468.6,274L466.4,273.8L466,273.5L463.3,273.6L462.7,273.8L461.8,273.1L461.2,274.4L461.5,275.5L460.6,276.3L460.7,277.5L460.5,278L460.8,279.2L460.3,279.3L461,280.4L461.6,282.3L462,283.1L462,284.5L462.6,286L464.2,286.2L464.9,285.8L466.1,285.9L466.4,285.2L467,285L467.5,284.3L468.1,284.2L470,284L471.4,283.5L472.7,282.4L473.4,282.6L474.4,282.5L476.3,280.6L479.9,279.4L482.1,278.3L482.1,277.4L482.5,276.2L484.1,275.5Z"/>
<path fill="#ffffcc" d="M497.1,263.1L497.3,262.3L498,260.8L498,260.2L497.1,259.8L496.4,259L495.3,257.5L493.9,257L492.2,256.7L490.9,255.7L489.7,253.9L488.5,253.9L488.5,255.6L488.9,256L488,256.5L488.1,257.6L487.5,258.7L487.6,259.7L488.8,261.6L487.7,266.8L481.1,269.4L483.2,273.7L484.1,275.5L485.1,275.4L485.7,275L486.6,274.5L487.9,274.8L488.9,274L488.8,273L489.6,272.3L491.1,272.3L491.5,271.8L491.7,270.5L493,269.5L494,269.6L494.2,269.2L493.8,267.5L494.1,266.2L494.5,265.5L495.5,265.7L496.2,263.9ZM489.4,251.4L489.5,250.3L489.2,250.1L488.6,251L489.1,251.9Z"/>
<path fill="#ffffcc" d="M479.4,255.6L479,255.7L479.2,256.3L480.2,259L487.2,260.3L487.6,259.7L487.5,258.7L488.1,257.6L488,256.5L488.9,256L488.5,255.6L488.5,253.9L489.7,253.9L489.1,251.9L488.6,251L487.4,252.6L485.9,254.2L484.5,256L483.1,255.9L481.3,255.9L479.5,256.3Z"/>
<path fill="#ffffcc" d="M477.9,254.9L478.5,254.7L478.9,253.1L478.6,251.6L477.9,250.8L477.3,251.1L476.8,252.5L477.1,253.9L477.2,254.4Z"/>
<path fill="#ffffcc" d="M504.6,249.1L504.2,247.9L503.1,247.5L502.7,245.2L500.4,244.1L499.3,242.5L498,241.1L499.6,238.7L499.1,237.1L497.3,236.6L496.9,235L495.8,232.9L496.4,231.4L495.4,231L495.6,229.2L495.8,225.9L495.2,223.7L493.5,223.6L490.6,221.3L488.8,221L486.1,219.7L484.5,219.5L483.7,219.9L482.2,219.9L481,221.4L479.2,221.9L479.2,222.5L475.9,223.2L472.8,222.7L471,221.4L468.9,220.9L467.8,218.9L467.3,219.1L465.7,217.7L466.2,216.4L465.4,215.7L464.7,215.8L462.5,217.8L461.8,217.8L460.2,217.5L458.9,216.3L458.4,215.3L457.1,216.1L458.3,219L458,219.9L459.5,221.9L461.4,225L463,225.8L463.4,227.4L462.4,228.2L462.2,230.3L464.1,232.8L467,234.2L468.4,236.2L468.3,238.1L469,238.1L469.2,239.5L470.6,240.8L471.3,239.8L472.9,240.7L474,240.3L476.1,243.8L477.9,246.2L480.1,247L482.6,249L485.5,249.9L487.5,248.6L489.2,248.1L490.3,248.6L491.7,251.8L494.3,252.1L496.8,252.7L501.1,253.5L501.5,250.5Z"/>
<path fill="#ffffcc" d="M433.5,209.3L431.2,210.1L428.9,211.7L424.8,211.4L424.2,213.4L420.9,213.5L418.8,216L420.3,217.2L419.5,219.2L421.2,220.7L422.7,223.3L425.1,223.2L427.3,224.6L428.8,224.3L429.2,223.2L431.5,223.3L433.4,224.7L436.7,224.4L438,222.9L439.8,223.5L441.1,223.3L440.4,224.3L441.4,225.5L441.9,224.9L442.4,224.3L442.3,222.8L443.1,223.4L445.4,222.6L446.6,223.1L448.4,223.1L450.7,222.1L451.9,222.2L454.3,221.8L455.1,221.4L457.7,221.7L458.6,222.4L459.5,221.9L458,219.9L458.3,219L457.1,216.1L458.4,215.3L457.4,214.5L455.8,213.9L455.7,212.7L455.2,211.7L452.9,210.5L450.7,210.6L448.4,212L446.6,211.7L444.2,212.1L441,211.1L437,209.3ZM420.6,212.8L421.5,212L424,211.8L424.3,211.2L422.3,210.4L421.9,209.4L420.1,209L418,209.8L419.1,210.5L418.7,212.1L418.2,212.4L418.2,213L419,214.2Z"/>
<path fill="#ffffcc" d="M434.2,227.2L433.2,227.3L433.8,228.4L434.9,228.7L437,227.6L436.9,227.4L436.7,226.9L438,225.8L436.2,226.6L434.6,226.6L434.3,227.2Z"/>
<path fill="#ffffcc" d="M452.9,210.5L455.2,211.7L458,211.3L458.5,210.9L460.2,211.7L461.4,211.8L461.6,211.5L460.3,210.1L460.7,209.8L459.3,209.2L458.4,208.1L456.4,207.6L455.2,208L454.7,207.5L451.6,206.2L448.5,205.8L446.6,205.4L446.4,205.7L447.3,206.5L448.6,206.8L449.9,207.7L450.8,209.5L450.7,210.6Z"/>
<path fill="#ffffcc" d="M455.8,213.9L457.4,214.5L458.4,215.3L458.8,215.2L459.6,215.9L460.6,215.9L460.6,216.3L461.8,217.8L462.5,217.8L462.1,216L461.1,215.5L460.1,214.8L460.5,214L459.2,213.1L459.5,212.5L458.6,212L458,211.3L455.2,211.7L455.7,212.7Z"/>
<path fill="#ffffcc" d="M463.1,211.4L461.4,209.8L460.7,209.8L460.3,210.1L461.6,211.5L461.4,211.8L460.2,211.7L458.5,210.9L458,211.3L458.6,212L459.5,212.5L459.2,213.1L460.5,214L460.1,214.8L461.1,215.5L462.1,216L462.5,217.8L464.7,215.8L465.4,215.7L466.2,216.4L465.7,217.7L467.3,219.1L467.8,218.9L467.5,217.6L468.2,217L468.4,216.1L468.4,214.1L470.1,213.9L469.2,213.2L468.2,213.1L466.8,211.3L466.1,210.6L465.4,209.9L464.3,210.9L464.1,211.6ZM460.2,217.5L461.8,217.8L460.6,216.3L460.6,215.9L459.6,215.9L458.8,215.2L458.4,215.3L458.9,216.3Z"/>
<path fill="#ffffcc" d="M293.6,117.1L289.2,117.9L288.1,117.5L283.8,117.5L279.4,117.7L275.7,118.1L275.7,118.9L273.4,119L267.5,120.2L265.6,120.9L268.9,121.5L267.8,122.2L261.6,123.1L255.2,124L254.3,124.8L257,125.5L262.9,126L260.5,125.8L260.5,126.1L259.8,126.2L255.4,126.8L257,128L258.2,128.6L262.1,128.5L266.2,128.4L269.3,128.5L272.6,129.7L272.1,130.5L273.6,131.3L274.2,133.5L274.6,135L275.1,135.7L272.3,137.7L273.3,138.3L275.1,138L276.2,138.7L278.3,140.1L278.3,140L275.3,139.5L273.7,139.5L272.5,140.7L271.9,142.2L273.6,142.9L275.2,142.6L276.3,142.2L278.6,141.5L277.4,143.2L276.3,144.1L273.4,144.9L270.6,147.5L271.4,148.3L270,150L271.5,152.1L270.9,154.2L271.2,155.7L273.1,158.6L273.5,160.9L274.8,162.2L278.4,162.2L280.5,164.2L283.1,164L284.8,161.7L286.2,159.7L286.1,157.9L289.6,156L291,154.5L291.6,152.9L293.5,151.5L296.2,150.9L298.7,150.4L299.9,150.3L304.1,148.7L307.2,146.3L309.1,145.5L311,145.4L316.2,144.7L321.1,142.9L326,141L323.7,140.9L319.4,140.8L321.6,139.7L321.4,138.2L323.1,139.4L324.2,140.3L327.2,139.9L327,138.1L325.1,136.8L323.1,136.3L324,135.7L327,136.6L327.2,135.7L325.5,134.2L327.7,134.2L330,133.9L330.7,133.2L329.1,132.3L332.6,132.2L331,130.4L332.7,130.2L332.7,128.5L330.1,127.5L332.8,126.9L335.1,126.8L333.6,125.5L334.1,123.4L335.6,122.2L337.6,120.9L338.1,120.5L339,120.5L339.9,120.1L345.9,118.9L345.2,118.2L341.1,117.9L334.2,118.5L330.7,119.1L330.4,119.1L332.2,118.2L331.3,117.6L328.4,118.1L324.9,117.6L324.9,117.3L326.4,117.3L330.6,117.2L331.7,117.2L334.4,116.6L326.3,115.4L315.6,115.3L310.7,115.4L308.7,116L304,115.9L298.8,116.8L298.1,117.5L297.8,117.8L296.4,117.7Z"/>
<path fill="#ffffcc" d="M275.9,116.4L273.2,116.2L269.6,116.1L266.8,116L263.9,115.9L259.7,116.1L259.2,116L254.9,116L252.3,116.2L250.2,116.4L248.2,117.3L247.2,116.8L245.6,116.8L242.8,117.3L239.8,117.6L238.1,117.6L235.6,117.9L235.2,118.5L236.3,119L236.6,119.6L238.4,120.2L239.1,120.2L243.5,120.1L245.9,120.3L246.5,120.3L243.6,120.9L242.7,120.7L238.8,120.7L238.4,121.6L239.3,122.1L239.8,122L239.8,122.2L239.6,122.3L239,122.6L238.4,122.9L235.3,123.4L235.6,123.4L235.5,123L235.5,122.9L235.9,122.9L238.5,122.3L237.5,121.7L237.7,120.5L235.8,120.2L233.8,119.9L233.2,119L229.8,119L229.9,119.4L228.3,119.5L226.6,120.1L224.7,120.8L224.5,121.6L225.3,122.3L228,122.2L226.2,122.7L225.3,123.4L226,124.2L228.8,124.4L231.5,124.3L232.4,124L233.3,124.1L235.3,124.5L236,125.7L232.9,124.9L231.8,125L231,126.4L227.8,126.9L227,127.8L229.7,127.9L231.8,128.1L236.5,127.9L240,128.4L245.2,127.2L245.6,126.7L242.3,126.8L242.2,126.6L245.8,125.8L247.2,125L250.1,124.5L252.1,123.8L251.8,122.9L253.2,122.6L253.1,122.6L253.1,122.3L251.4,122.4L256,122.1L257.3,121.8L260.6,121.5L264.4,120L267.1,119.6L271.4,118.6L268.3,118.6L270.4,118.6L270.4,118.2L269.9,118.2L273.6,117.9L277.6,117.2L278,116.8ZM165.7,143.5L162.6,142.7L161,141.7L159.2,141.6L157.8,142.3L155.4,142.6L157,141L153.1,142.4L152.6,140.5L151.7,140.3L150.1,141.3L148.3,141.8L148.2,140.9L144.8,141.4L141.2,142.4L139.1,142.1L136.2,142.8L133.7,143.7L132.2,143.5L130.8,142.5L128.3,141.9L118.4,150.2L103.9,163.5L105.6,163.6L106.7,164.2L106.9,165.3L107,166.9L110.1,165.5L112.8,164.8L112.5,166L112.8,167L113.5,168.1L113,169.8L112.5,172.6L114.4,174.1L113.1,175.7L111,176.9L110,178.2L110.8,180L109.6,182L111.2,183L109.8,184.6L109.2,186.8L111.7,187.7L112.1,187.8L112.7,188L112.6,188.3L112.3,188.3L112.7,189L115,191.4L115.2,191.4L121,191.4L127,191.4L128.9,191.4L135.1,191.4L141,191.4L147.1,191.4L153.1,191.4L160,191.4L166.9,191.4L171.1,191.4L171.6,190.5L172.3,190.4L171.9,191.8L172.3,192.3L173.7,192.4L175.5,192.8L177.1,193.6L178.9,193.3L181.1,194L181.8,193.9L183.9,193.2L185.4,194.1L187,195.1L188.2,196L189.5,196.8L189.4,197.5L189.8,197.7L189.5,198L190,198L190.5,197.8L190.4,198.4L190.6,198.8L191.2,198.8L191.4,199.1L190.9,199.6L192.6,200.8L192.1,203.1L191.6,205.3L190.4,206.9L188.9,208.3L188.1,209.2L188,209.4L188.1,209.8L188.6,210.2L189.2,210.2L192.1,208.8L194.4,208.4L197.6,207.2L197.8,206.9L197.9,206.1L197.7,205.6L198.8,205.2L200.9,205.2L202.8,205.2L203.8,204.2L204.1,204L207,202.1L208.1,201.7L211.3,201.6L215.1,201.6L215.5,201L216.2,200.9L217.2,200.5L218.4,199.3L219.7,197.3L221.9,195.4L222.4,196.1L223.9,195.6L224.5,196.4L223.4,199.9L224.2,201.3L226.6,201L230,200.9L225.7,203L225.1,205.2L226.6,205.4L229.5,203.5L231.9,202.5L236.9,201L240,199.3L238.9,198.4L239.3,196.5L236.4,199.4L232.5,199.8L232.4,199.5L230.6,198.5L230.6,196.6L230.9,193.8L233.4,192.1L232,190.9L228.9,191.1L223.9,193.2L219.4,196.6L217.6,197L220.7,194.6L224.9,191.3L227.8,190.1L230.2,188.3L232.3,188.1L235.3,188.2L239.4,188.7L242.9,188.3L246.2,186.2L249.7,185.3L251.4,184.5L253.2,183.5L254,180.7L253.6,179.8L252.1,179.4L252.2,177.3L251.2,176.5L248.4,175.9L247.2,174.5L245.2,173.1L246.6,171.6L245.8,168.7L244.8,165.6L244.3,163.4L242.6,164.6L239.6,167.2L236.2,168.6L235.5,167.1L234,166.7L234.9,163.7L236,161.7L232.9,161.5L232.8,160.6L231.3,159.2L230.1,158.5L228.2,159.1L226.5,158.8L223.8,158.2L222.2,158.7L220.7,162.4L220.2,164.6L216.6,167.1L217.9,169L218.1,171L217.4,172.7L215.4,174.3L212.4,176.1L208.7,177.2L209.4,178.5L208.5,182.5L206.2,185.1L204.3,185.9L202.5,183.5L202.5,180.7L203.2,178.2L204.6,176L202.7,175.8L199.6,175.7L198.1,174.6L196.1,173.9L195.4,172.8L194.1,171.9L191.2,170.8L188.3,171.3L188.6,169.4L189.2,167.2L186.7,166.8L188.7,164L190.8,162.1L194.6,159.5L198.2,157.5L200.4,157.2L201.6,155.7L203.7,154.8L206.4,154.6L209.5,153L210.7,152L213.8,150.1L215.1,149L216.4,149.6L219,149.3L223.5,147.7L224.5,146.6L224.1,145.4L226.2,144.2L226.9,143.1L225.4,142L224.8,141.6L227.7,141.9L231,141.6L232.3,140.9L233.1,141.7L234.5,141.8L235.3,143.2L233.8,143.7L236.8,144.5L238.7,145.6L238.8,146.3L238.7,147.3L235.1,149.5L233.8,150.7L233.9,151.5L230.2,151.8L226.8,151.8L224.6,153.5L225.6,154.3L231,153.9L231.3,153.2L233.2,154.4L235.2,155.6L234.2,156.2L235.7,157.4L238.9,158.7L243.3,159.7L243.4,158.8L242.3,157.4L240.8,155.4L244.3,157.3L246.2,157.9L247.7,156.2L247.7,153.9L247.3,153.3L245.5,152.3L244.4,150.9L245.3,149.6L247.7,149.3L249.3,151.5L250.9,152.5L255.3,149.9L256.7,148.3L254.1,148.1L252.7,146.1L250.3,145.6L247.2,144.1L250.9,143.1L250.5,141L249.6,140.1L246.2,139.3L245.5,137.9L242.1,138.4L242.5,137.5L241,136.5L238.3,135.4L236.1,136.3L232.5,136.9L233.8,135.5L232.9,133.3L228.1,134.2L225.2,135.9L225.1,134.6L227.4,133.2L222.8,133.8L220.4,134.6L217.5,136.5L216.1,138.7L218.3,138.7L218.4,138.7L215.9,139.7L216.6,140.4L219,140.7L221.2,141.2L221,141.6L219,144L216.4,145.9L213.4,147.5L212.9,146L214.7,144.3L213.7,142.9L210.1,144.7L211.9,142.4L209.2,142L211.5,140.9L211.4,138.4L210.6,137.5L208.8,137.2L205.4,138.7L203.2,141.1L204.4,142L205,143.3L202.4,145.6L201.1,145.5L199.1,146.9L198.5,147.3L200.3,145.2L198.3,144.4L196.5,144.8L195.5,146.2L193.1,146.1L190.1,146.5L188,145.5L186,145.7L185.3,144.5L184.5,143.9L182.9,144.2L180.8,144.3L179,145L179.8,146L176.9,147.1L176.3,145.8L174.5,146.1L169.7,146.4L167.1,145.9L170.6,144.8L169.4,143.7L167.6,143.9ZM208.8,137.2L209.1,137.2L209.1,136.9L210.5,137L213.7,135.4L216,134.9L220.1,133.1L217.6,132.6L214.4,132.5L212.2,133.1L210.6,134L209.5,135L208.8,136.9L208.6,137.3ZM253.2,194.9L252.2,197L253.4,197.5L254.3,197.4L255.8,195.2L255.7,194.4L255.6,193.6L255.7,192.2L254.2,192.7L255.3,190.8L253.6,190L252.4,190.7L250.9,189.9L251.8,189.1L250.7,188.5L249.3,189.3L249.1,189.4L251.1,187.2L252.7,185.6L253.3,184.9L252.4,184.8L250.4,185.7L248.7,187.1L245.3,191.1L243.2,192.7L243.8,193.3L242.3,194.2L242.4,195L246.3,195.1L248.5,194.9L250.3,195.5L248.5,196.7L249.7,196.8L252.7,194.6L252.9,194.8ZM236,133.3L235.1,133.4L234.4,134.2L235.3,135.3L235.6,135.4L236.6,135.3L237.6,135.1L239.3,135.2L241,135.2L241.2,134.7L239.4,133.5ZM225,127.9L224.4,127.2L221.4,127.2L220.5,126.6L217.5,126.5L216,127.3L217.1,127.9L219.9,128.1L220.5,129L219.7,130L219.1,131.1L222.6,131.7L224.9,132L228.1,132L232.9,131.6L234.7,131.9L237.4,131.4L238.8,130.9L239.2,130.1L238.2,129.3L235.9,129.2L232.6,129.3L229.7,129.8L227.6,129.6L225.6,129.5L225.2,129L223.9,128.6ZM238.4,191.2L238.5,190.7L236.8,189.6L234.4,189L233.6,189.2L235.1,190.4L237.4,191.2ZM232.6,197.7L232.2,196.4L231.2,197.2L231.4,198.1L233.7,199.2L234.5,199L235.8,198L233.9,198ZM234.6,145.1L232.9,145.4L231.3,146.6L231,147.7L233,147.6L234.5,147L234.9,146.7L235.5,145.7ZM220.9,124.7L219.6,124.9L219.5,125.2L219.3,125.7L221.9,125.8L222.7,125.8L223.1,125.6L222.5,125.2L220.1,125.2ZM220.9,124.7L222.2,124L221.3,123.4L220.5,123.3L218.8,123.2L217.9,124L217.6,124.7L218.3,125.1ZM210.1,154.7L207.7,155.9L210.3,155.7L210,157L213.3,155.8L215.9,154.6L216.2,155.6L218.6,156.2L220.7,155.5L219.9,154.7L218.5,154.9L219,153.8L217.5,153L216.1,152.3L215.5,151.7L214.3,152L214.7,151L213.6,150.8L211.5,152.9ZM217.7,159.5L217.8,160.2L218.4,160.4L219.9,159.1L219.7,158.7L219,158.6L217.9,159.3ZM214.2,130L212.4,130.9L213.7,131.4L215.8,131.6L217.6,130.1L217,129.4ZM211.8,158.4L211.8,159.1L213,159.1L216,157.8L216.3,157.4L213.8,157.4ZM209,123.1L210.1,123.6L207.9,124.1L211.1,124.2L212.7,124.8L214.9,125L215.3,124.2L215.4,123.3L212.4,122.6L209.9,122.4ZM212.8,129.3L213.9,128.2L213.8,127.3L213.4,127.6L211.4,127.5L208.3,128.1L207.3,128.1L206.8,128.1L205,129.6L207.7,129.5L206.4,130.6L207.7,130.9L210.5,130.7ZM199,135.2L198.3,135.9L200.7,137.6L201,138.4L202.4,138.6L205.8,137.7L207.9,135.8L206.4,134.9L208.9,133.9L209.1,133.3L206,133.6L204.5,133.1L201.6,134.1L202,135.5L200.5,135.4ZM202.4,142.4L202.2,142L201.6,141.6L200.4,141L198.4,141.9L196.3,142.6L197.7,143.6L199.3,143.4L201,144L202.7,143.3ZM197.5,123.8L197.1,124.1L199.6,124.1L201.9,123.7L200.5,123.3L199.9,123.2ZM197.8,130.7L199.9,129.8L200.8,128.8L199.3,128.7L197.5,129L197.8,128.3L198.5,127.4L197.2,127.2L194.9,127.9L194.7,129.8L192.2,129.6L191,128.5L187.6,127.8L185.4,128.3L180.7,130.3L182.4,130.7L189.7,130.4L188,130.5L188,130.8L185.4,131.3L184.7,132L187.2,131.9L192.2,131ZM174.7,140L177.4,140.5L174.8,140.9L172.6,140.8L169.6,141.1L168.3,141.4L168.5,143.1L170.3,142.9L172,143.5L171.9,144.5L175.1,144.3L179.6,144L183.5,143.2L185.6,143.1L187.9,143.7L190.6,144.1L191.9,143.2L191.6,142.4L194.5,142.2L195.5,141.3L193.5,140.2L191.8,139.2L192.8,137.6L193.9,135.6L193.1,134.7L191.8,134.4L190.1,134.7L188.9,136.8L187.2,137.7L188.1,135.7L187.4,135L184.4,136L183.3,135L179.3,135.6L179,135.6L181,134.6L179.8,134.2L179.1,134L179.7,133.9L179.1,133L178.3,132.4L174.4,132.3L172.7,131.9L167,132.2L166.9,133.5L163.7,134.8L160.7,136.4L158.9,137.3L161.3,138.4L161.1,139.4L166.6,138.3L167.7,137.4L171.4,135.9L173.5,135.4L173.6,135.7L174,135.5L171.9,136.3L168.7,137.9L170.9,138.5L172,138.7L168.7,139.3L168.7,140.1L171,140.2ZM184.9,125.8L179.9,127L175.2,128.5L176.7,128.9L179.6,128.6L183.6,127.8L185.1,127.7L187.3,127L189.6,125.5L187.1,125.8ZM111.1,192.7L110.7,193L111.3,193.2L111.8,193ZM111.8,193L113.1,192.7L113.2,191.3L111.9,190.2L111.7,189L111.6,188.1L109.9,187.9L109,187.5L107.3,187L106.7,187.5L106.4,188.9L108.2,189.4L108.1,190.1L109.3,191L109.3,191.9ZM103.7,179.3L103.2,180.4L103.5,181.1L103.3,182.3L103.6,183.4L104.4,183.4L104.3,181.4L107.2,178.6L105.2,178.8L104.5,178.5Z"/>
<path fill="#ffffcc" d="M215.5,201L215.1,201.6L211.3,201.6L208.1,201.7L207,202.1L204.1,204L203.8,204.2L202.8,205.2L200.9,205.2L198.8,205.2L197.7,205.6L197.9,206.1L197.8,206.9L197.6,207.2L194.4,208.4L192.1,208.8L189.2,210.2L188.6,210.2L188.1,209.8L188,209.4L188.1,209.2L188.9,208.3L190.4,206.9L191.6,205.3L192.1,203.1L192.6,200.8L190.9,199.6L191.4,199.1L191.2,198.8L190.6,198.8L190.4,198.4L190.5,197.8L190,198L189.5,198L189.8,197.7L189.4,197.5L189.5,196.8L188.2,196L187,195.1L185.4,194.1L183.9,193.2L181.8,193.9L181.1,194L178.9,193.3L177.1,193.6L175.5,192.8L173.7,192.4L172.3,192.3L171.9,191.8L172.3,190.4L171.6,190.5L171.1,191.4L166.9,191.4L160,191.4L153.1,191.4L147.1,191.4L141,191.4L135.1,191.4L128.9,191.4L127,191.4L121,191.4L115.2,191.4L114.6,193.5L113.6,195.6L112.7,196.3L113.1,193.9L111.3,193.2L110.7,193L110.1,193.5L110,194.7L109.2,196.9L107.5,200.3L105.9,202.6L104.2,205L102,207.4L101.5,209.4L100.4,211.6L98.8,213.8L99.2,215.2L98.4,217.3L99.1,219.5L99.6,220.3L99.2,220.9L99.4,224.6L100.4,227.2L100.1,228.6L100.5,229L102.4,229.3L102.9,230L104.1,230.1L104,230.9L105,231.2L105.3,231.9L105.8,232.7L105.7,234L108.3,233.8L111.1,233.6L110.8,234L113.7,235.3L118.1,237.2L122.4,237.2L124.2,237.2L124.5,236.1L128.4,236.1L128.9,237L129.8,237.8L130.7,239L131.1,240.3L131.2,241.8L132.2,242.6L133.8,243.4L135.7,241.3L137.6,241.2L138.9,242.3L139.5,244.1L139.9,245.6L140.9,247.1L141,248.9L141.3,250.1L142.9,251L144.4,251.5L145.3,251.5L145,250.6L145.2,249.3L145.6,247.5L146.4,246.3L147.9,245.1L150.4,244L152.8,242L154.9,241.4L156.3,241.2L157.7,241.8L159.8,241.5L161.1,242.9L162.7,243L163.6,242.5L164.4,242.9L164.9,242.5L164.5,242L164.8,240.9L164.6,240.2L165.6,239.8L167.3,239.7L169.2,240L171.8,239.6L173,240.3L173.8,241.5L174.2,241.6L176.7,240.4L177.5,240.8L178.7,243L179.1,244.4L178.3,246.2L178.4,247.2L179.1,249.2L179.9,251.5L180.6,252.1L180.8,253.2L181.8,253.5L182.6,253.2L183.4,251.6L183.6,250.6L184,248.8L183.5,245.8L183.7,244.7L183.1,242.8L182.9,240.6L182.9,238.8L183.6,236.9L185,235.4L186.6,234.1L189.4,232.4L189.9,231.5L191.3,230.6L192.4,230.4L194.2,228.9L196.7,228.1L198.6,226.2L199,223.6L199,222.6L198.6,222.5L198.4,222.8L198.4,222.7L198.4,222.5L198.7,221.3L199.1,220L199.1,219.8L199.1,219.6L199.1,219.4L199.2,217.9L199.9,216.8L199.6,218.7L199.5,218.9L200.3,219.9L199.2,221.7L199.3,221.8L201.1,219.7L202.1,218.7L202.4,217.7L202,217.3L201.9,215.9L202.4,216.5L202.9,216.7L202.8,217.3L205,215.3L206,213.5L205.4,213.4L205.9,213L205.9,212.9L206.3,212.6L206.1,212.9L207.5,212.9L210.7,212.2L210.2,211.7L209.9,211.3L210.2,211.3L211.2,211.1L212.9,210.7L213.9,210.7L215.4,210.3L215.8,209.6L215.4,209L215.3,210L214.4,209.9L214.2,208.5L214.4,208L214.7,207.1L215.2,206.6L216.8,205.1L219.3,204.3L221.7,203.4L224.3,202.1L224.2,201.3L223.4,199.9L224.5,196.4L223.9,195.6L222.4,196.1L221.9,195.4L219.7,197.3L218.4,199.3L217.2,200.5L216.2,200.9ZM83.7,143.8L81.1,144.9L82.4,145.6L82.7,146.6L82.4,147.7L83.3,148.5L82.9,150L79.1,150L80.8,148.9L79.4,148.9L74,150L70.3,151L70.7,152.3L70.2,153.2L72.1,153.8L74.9,153.5L75.6,154L76.8,153.5L79.6,153L79.7,153L79.7,153.3L78,153.9L78.4,154.3L77.4,155.4L75.2,156.1L74.1,155.9L71.3,157L70.5,156.6L68.9,156.8L66.7,158L63.6,159.3L61.2,160.7L61.3,161.7L59.7,163L60,163.3L60.3,163.6L60.5,164.7L63.4,164.3L63.6,165.1L62.2,166L60.7,167.4L61.8,167.4L64.8,166.5L64.1,167.7L65.6,166.8L65.4,168.1L67.5,167.2L67.6,167.6L70.6,166.8L69.2,167.6L68,168.3L65.7,170.1L63.3,171L62.4,171.5L58.2,172.9L56.2,173.9L53.5,174.2L50,175.5L47.3,176.3L44,177.5L43.8,177.9L47.9,177.2L50.4,176.4L53.2,175.5L55.7,174.8L56.9,175L60.2,174L62,172.8L66.3,171.6L67.9,170.5L70.6,169.7L73.8,168.7L77.4,167L77.3,165.8L81.9,164.1L84.9,162.5L86.2,162.1L86.2,162.2L85.8,162.5L82.4,164.9L81.1,166.3L83.7,165.8L86.2,164.9L88.9,164.5L90.1,164.3L91.5,162.7L94.1,162.2L95.2,163.2L97.6,164.2L100.4,164.1L102.7,164.9L104,165.4L105.4,167.9L106.9,168.6L109.8,168.6L111.5,168.8L110.4,171.1L111,173L109.7,175.2L110.7,176L111,176.9L113.1,175.7L114.4,174.1L112.5,172.6L113,169.8L113.5,168.1L112.8,167L112.5,166L112.8,164.8L110.1,165.5L107,166.9L106.9,165.3L106.7,164.2L105.6,163.6L103.9,163.5L118.4,150.2L128.3,141.9L126.9,141.6L125.3,141L122.6,141.3L121.7,141L118.8,140.8L116.3,140.1L114.3,140.4L112.3,140L113.1,139.5L110.5,139.4L109.2,139.8L109.4,138.8L107.6,138.4L103.3,139.5L102.1,139.4L97.5,140.3L95.5,140.6L92.3,141.6L90.4,142.7L86.8,143.7ZM73.8,169.5L71.1,170.4L70.2,171.5L70.5,172.2L73.4,171.2L76.2,170.1L76.2,169.3L75.2,169.1ZM61.5,156.7L61.9,156.5L60.6,156.2L59.9,155.5L58.5,155.8L58,155.3L56.7,156.2L56.9,156.4L58.7,156.3L58.7,156.7L59.5,157.2ZM57.2,163.3L54.9,163.7L55.3,164.4L55.9,164.8L57.5,164.5L58.5,163.6ZM11.7,268.1L11.4,267.2L11.1,266.8L10.7,266.6L10,266.1L9.8,266.1L9.6,266.3L9.7,266.8L9.6,266.9L9.2,267.3L9,267.6L9.1,268.5L8.9,269.2L9.4,269.6L9.8,269.2L10.6,268.8L11.6,268.3L11.6,268.2ZM8.6,264.1L8.3,264.4L8.3,264.5L8.5,264.8L8.8,265.3L9.2,265.2L9.5,265.1L9.7,265L9.8,264.8L9.7,264.7L9.3,264.4L9.1,264.3ZM5.3,263.4L6.1,263.4L6.2,263.5L6.4,263.3L6,262.5L5.8,262.3L5.1,262.7L5.2,262.8ZM2.1,261.4L2.7,261.9L3,261.6L3.1,261L2.6,260.9L2.2,261.2Z"/>
<path fill="#ffffcc" d="M142.9,251L141.3,250.1L141,248.9L140.9,247.1L139.9,245.6L139.5,244.1L138.9,242.3L137.6,241.2L135.7,241.3L133.8,243.4L132.2,242.6L131.2,241.8L131.1,240.3L130.7,239L129.8,237.8L128.9,237L128.4,236.1L124.5,236.1L124.2,237.2L122.4,237.2L118.1,237.2L113.7,235.3L110.8,234L111.1,233.6L108.3,233.8L105.7,234L105.8,236.4L106.1,238.5L106.3,240.2L106.7,241.8L107.8,242.5L109,244.4L108.7,245L108.5,245.6L107.4,246.6L106.6,246.4L106.3,246.6L107.3,248.1L108.5,248.8L108.9,249.4L109.3,249.1L110.5,250.3L111.4,251.1L111.4,252.5L110.9,254.4L111.9,255.1L113.3,256.3L114.5,257.8L114.8,259.4L115.2,259.4L116.4,258.5L116.5,258L115.9,256.8L115.2,255.6L114.1,255.6L114.3,254.2L113.9,253L113.5,251.8L113.3,249.4L112.3,248.1L112,247.1L111.5,246.5L111.5,244.8L111.1,244.8L111.1,243.9L110.8,243.7L110.6,243.1L109.5,241.3L109,240.2L109.4,238.3L109.5,237L110.2,236L111.2,236.7L112,236.6L113.2,237.6L112.9,238.6L113,240.6L113.7,242.6L113.5,243.4L114.2,244.7L115.1,246L116.3,246.3L116.4,248.1L117.4,249.3L118.4,250L117.7,251.6L117.9,252.2L119.6,253.3L120.4,254.9L122.3,256.9L123.8,259.6L124.4,260.9L124.4,261.9L124.9,263.1L124.8,264L124.2,264.6L124.3,265.4L123.5,265.7L123.8,266.9L124.7,268.6L126.9,270.1L127.7,271.3L129.9,272.1L131.1,272.2L131.6,272.9L133.3,274.2L135.7,275.4L137.4,275.8L139.4,277L141,277.5L142.5,278.2L143.7,277.9L145.7,276.9L147,276.7L148.8,277.4L149.8,278.2L152.1,281.1L152.3,280.3L152.6,279.7L152.3,279.2L153.7,277.1L156.6,277.1L156.7,276.2L156.4,276L156.2,275.4L155.4,274.8L154.7,274L155.7,274L155.9,272.5L158,272.5L160.1,272.5L160.2,272.1L160.5,272L160.8,272.3L161.9,270.7L162.3,270.7L162.7,270.7L162.7,270.6L163.3,271.3L164.1,269.3L164.6,268.2L164.2,267.7L165,266.1L166.4,264.6L166.7,263.3L166.2,262.8L164.8,263L162.8,262.9L162,263.1L160.3,263.5L158.7,264.2L158.2,264.9L157.7,267.1L156.9,268.7L155.4,269.7L153.9,270.2L152.1,270.7L150.3,270.9L148.2,271.6L147.4,270.6L145.1,269.8L144.4,268.6L144.1,267.1L142.9,265.1L142.8,263.1L142.3,261.8L142.1,260.4L142.5,259.1L143.3,255.6L144,253.8L145.3,251.5L144.4,251.5Z"/>
<path fill="#ffffcc" d="M156.9,282.8L157.8,282.1L158.2,281.8L158.1,281.5L158.7,281.4L159.2,280.7L159.1,280.2L159.3,279.7L160.5,278.9L161.6,277.9L161,277.6L160.7,278L160,277.5L159.3,277.5L159.9,274.6L160.1,272.5L158,272.5L155.9,272.5L155.7,274L154.7,274L155.4,274.8L156.2,275.4L156.4,276L156.7,276.2L156.6,277.1L153.7,277.1L152.3,279.2L152.6,279.7L152.3,280.3L152.1,281.1L153.2,282.1L154.2,282.7L155.7,282.7L156,282.8L156.8,283.1Z"/>
<path fill="#ffffcc" d="M161.9,270.7L160.8,272.3L160.5,272L160.2,272.1L160.1,272.5L159.9,274.6L159.3,277.5L160,277.5L160.6,276.6L161,276.5L161.5,275.9L162,274.5L161.8,274.3L162.2,273.3L162,273L162.6,271.8L162.7,271.2L162.7,271.1L162.7,270.7L162.3,270.7Z"/>
<path fill="#ffffcc" d="M162.2,283L161.9,282.8L161.5,282.6L160.5,282.9L160.4,282.5L159.8,282.1L159.3,281.6L158.7,281.4L158.1,281.5L158.2,281.8L157.8,282.1L156.9,282.8L156.8,283.1L157.4,283.7L158.6,283.9L159.6,284.4L160.4,284.7L161,284.7L161.7,284.7L162,284.1Z"/>
<path fill="#ffffcc" d="M163.7,285L164,284.4L164.4,284.4L164.4,283.1L165,283L165.5,283.1L166,282.4L166.7,282.9L166.9,282.6L167.4,282.3L168.2,281.6L168.3,281L168.5,281L168.9,280.4L169.1,280.3L169.5,280.7L169.9,280.8L170.5,280.5L171,280.5L171.9,280.2L172.2,279.8L173,279.9L172.5,279.1L171.7,278.8L171.1,278.2L170.4,277.7L170.1,277.6L169.1,277.3L168.6,277.5L168,277.5L167.5,277.4L166.7,277.3L166.4,277.5L166.1,277.7L165.7,277.8L164.6,277.9L163.6,277.6L163.2,277.8L163,277.6L162.6,277.6L162.4,277.6L161.8,278.1L161.6,277.9L160.5,278.9L159.3,279.7L159.1,280.2L159.2,280.7L158.7,281.4L159.3,281.6L159.8,282.1L160.4,282.5L160.5,282.9L161.5,282.6L161.9,282.8L162.2,283L162,284.1L162.7,284.3L163,285.1Z"/>
<path fill="#ffffcc" d="M166.6,289.7L168.1,290.4L168.7,290.1L169.4,290.3L169.7,290.9L170.4,291L170.9,290.5L170.6,290L170.6,289.3L171.1,288.7L171.1,288.4L171,288L171.3,286.9L171.7,286.6L171.7,285.4L171.6,284.7L171.8,283.6L172.1,282.5L172.8,281.7L172.6,280.7L172.8,280.1L173,279.9L172.2,279.8L171.9,280.2L171,280.5L170.5,280.5L169.9,280.8L169.5,280.7L169.1,280.3L168.9,280.4L168.5,281L168.3,281L168.2,281.6L167.4,282.3L166.9,282.6L166.7,282.9L166,282.4L165.5,283.1L165,283L164.4,283.1L164.4,284.4L164,284.4L163.7,285L163,285.1L163.2,285.7L162.8,285.3L162.4,284.9L162.2,285.3L163.2,286.5L164.1,287.3L164.5,288.2L165.5,289.3L166.3,290.1Z"/>
<path fill="#ffffcc" d="M172.3,297L172.5,296.5L172.4,296L172.8,295.7L172.3,295.3L172.4,294.3L173.3,294L172.3,292.9L171.4,291.9L170.9,290.5L170.4,291L169.7,290.9L169.4,290.3L168.7,290.1L168.1,290.4L166.6,289.7L166.3,290.1L165.7,290.6L166.3,291L166,291.8L165.9,292.6L166.2,293.1L166.9,293.4L167.4,294.1L167.9,293.4L167.8,292.7L168.4,293.2L168.4,293.9L169.2,294.3L170.1,294.8L170.7,295.4L170.7,296L170.5,296.4L170.9,297L172.1,297.5Z"/>
<path fill="#ffffcc" d="M184.1,298.9L184.8,299.1L185.3,298.3L184.8,296.8L185.1,296.4L184.3,295.7L183.5,294.9L182.6,294.4L181.3,294.4L181.4,294.1L180.1,293.9L179.3,294.7L177.9,295.2L176.8,295.9L175.7,296.1L175.3,295.7L175.1,295.5L174.9,295.7L174,295.5L174,295L173.3,294L172.4,294.3L172.3,295.3L172.8,295.7L172.4,296L172.5,296.5L172.3,297L172.1,297.5L172.4,298L172.5,297.4L173.5,297.4L174,297.7L175,297.9L175.4,298.9L176.1,299.1L176.5,298.6L176.8,300.2L177.9,300.1L178.2,299.7L178.9,299.3L177.8,297.9L178.1,297.4L178.6,297.3L179.5,296.6L180.1,295.7L181.1,295.5L182.2,296.3L182.6,297.1L183.1,297.3L182.5,298L183,299.4L183.7,300.2Z"/>
<path fill="#ffffcc" d="M177,258.7L175.2,259L174.3,259.4L174,259.5L172.9,260.1L172.3,261L171,261.8L171.9,262.1L173.1,261.8L173.5,261.2L174.5,261.1L176.2,259.8L178.4,259.9L177.5,260.5L178.2,261.1L181.1,261.5L181.6,261.9L181.7,262L183.8,262.7L185,262.6L185.4,264.1L186.1,264.9L187.5,265L188.4,265.7L186.7,267.2L190,266.9L191.5,267.1L193,267L194.6,266.7L194.9,266.1L193.3,265L191.7,264.9L191.9,264.1L190.6,263.6L189.9,263.6L188.6,262.5L186.9,260.8L186.2,260.2L184,260.5L183.3,259.6L181.3,258.7L179.5,258.6L177.6,258.5Z"/>
<path fill="#c7e9b4" d="M199.5,270.4L200.1,270L200.4,269L200.3,267.5L199.3,267.3L198.4,267.1L197,267L196.4,267.7L197.8,268.1L197.7,269.1L198.6,270.3L197.8,270.8L196,270.6L194,270.3L193.7,271.1L194.8,271.9L196,271.4L197.3,271.6L198.4,271.5L199.9,271.9L200,271.2Z"/>
<path fill="#c7e9b4" d="M200.4,269L200.1,270L199.5,270.4L200,271.2L199.9,271.9L199.9,272.6L200.5,273.1L201.6,271.3L202.3,270.9L202.6,271.5L203.5,271.4L204,270.9L204.7,271L205.8,270.9L206.8,271.5L207.7,270.4L206.7,269.5L205.7,269.3L205.9,268.6L204.6,268.6L204.3,267.7L203.7,267.8L202.4,267.1L200.7,267.1L200.3,267.5Z"/>
<path fill="#ffffcc" d="M186.2,270.7L185.2,270.8L184.8,271.4L186,272.4L187.3,272.8L188,272.4L189.6,272.3L189.3,271.6L188.2,271L186.7,270.7Z"/>
<path fill="#ffffcc" d="M210.5,270.7L210.1,271L210.2,272.1L211.5,272.1L213.2,272.1L213.8,271.4L213.5,270.9L212.3,270.7Z"/>
<path fill="#ffffcc" d="M189.2,248.4L189.1,248.7L189.9,249.7L189.7,251.1L190,251.4L190.7,249.6ZM188.9,248.9L187.5,248.8L186.4,249L186.4,250L188.9,249.6ZM188.6,255.4L188.1,253.3L187.5,253.2L186.8,254.8L187.5,255.6L187.9,257.1L188.4,257Z"/>
<path fill="#ffffcc" d="M221.4,292L220.7,292.7L221.1,292.9L223,292.6L223.2,290.7L222.7,290.6L221.4,290.9Z"/>
<path fill="#ffffcc" d="M692.1,357.1L691.6,355L691.8,354.1L691.8,352.6L691.2,351.3L691.2,350.2L690.7,349.8L690.7,348.2L690.3,346.9L689.3,347.9L689.1,348.7L688.5,350.1L688.1,350.9L687.8,351.5L688,352.3L687.8,352.5L687.5,352.9L686.9,354.8L687,356.3L686.7,357.1L686.8,358.4L685.7,360.4L685.2,361.9L684.5,363L683.8,364.4L682.1,365.3L680.1,364.4L679.9,363.6L678.9,363L678.2,363L676.9,361.4L675.8,360.5L674.2,359.7L672.6,358.2L672.6,357.5L673.6,356.2L674.5,354.9L674.3,353.9L675.1,353.8L676.2,352.7L676.9,351.3L676,350L675.5,350.5L674.6,350.3L673.2,351.1L671.9,350.2L671.2,350.5L669.3,349.9L668.2,348.8L666.8,348.1L665.5,348.5L667.1,349.4L667,350.7L665,351.2L663.9,350.9L662.4,351.8L661.2,353.3L661.3,353.5L661.4,354L660.3,354.6L658.9,356.7L659.2,358.2L657.8,357.9L656.4,357.9L655.3,356.4L653.8,355.2L652.6,355.5L651.6,355.9L651.5,356.5L650.5,356.2L650.4,357L649.1,357.4L648.4,358.5L647,359.7L646.4,361.7L645.5,361.1L644.6,362.4L645.2,363.7L644.1,364.2L643.5,361.9L641.6,364.1L641.3,365.6L641,366.6L639.4,367.9L638.6,369.3L637.2,370.5L634.6,371.3L633.4,371.2L632.7,371.4L632.5,371.8L632.3,372L630.9,372.3L628.9,373.3L628.3,372.9L627.3,373.1L625.4,374.1L624.1,375.2L622.1,376.1L620.8,377.9L621,375.9L619.7,377.8L619.7,379.3L619.1,380.6L618.5,381.3L618,382.8L618.4,383.5L618.4,384.4L619,386.4L619,386.8L618.8,387.8L618.3,386.8L617.4,386L617.6,388.4L616.9,387.3L616.9,388.4L617.7,390.5L617.4,392.5L618.1,393.6L617.9,394.3L618.3,396L617.8,397.5L617.7,399L618,401.6L617.7,403.2L616.8,405L616.5,406L615.9,406.6L614.7,406.9L614.1,408.4L615.1,408.9L616.7,410.6L618.2,410.6L619.7,410.7L621.1,409.9L622.5,409.1L623.1,409.2L624.9,407.8L626.5,407.7L628.2,407.4L629.9,407.9L631.4,407.7L633.3,407.6L634.5,406.5L635.5,405.2L637.6,404.6L640.4,403.2L642.5,403.4L645.3,402.5L648.5,401.6L652.6,401.4L654.2,402.6L655.7,402.7L657.9,404.3L657.2,404.9L658,405.9L658.5,407.8L657.8,409.1L659,410.2L660.8,408.1L662.6,407.2L665.3,405L664.7,407L663.2,408.2L662.2,409.7L660.4,411.2L662.6,410.7L664.5,408.9L664.1,410.8L662.8,412.1L664.7,412.4L665.8,412.4L665.1,414.8L664.5,416.8L665,418.4L666.7,419.1L667.8,419.3L668.8,419.7L670.3,420.4L673.2,418.6L674.6,418.1L673.6,419.4L674.6,419.9L675.7,421L677.7,419.9L679.2,418.9L681.8,417.8L684.3,417.7L686,416.8L686.4,416L687.6,414.2L689.2,412.3L690.7,410.9L692.5,408.7L693.9,407.4L695.7,405.4L697.9,404.1L699.9,401.7L701.2,399.8L701.8,398.4L703.3,396L704.2,394.8L705.2,392.5L704.9,390.3L705.6,388.7L706.1,387.2L706.1,385.1L704.9,383L704.1,382L702.9,380.4L703.2,377.6L702.6,378L702,376.9L700.9,377.4L700.7,374.6L699.8,373L700.2,372.3L699,371.2L697.6,370L695.5,368.6L695.1,366.8L695.6,365.5L695.5,363.2L695,362.9L694.9,361.6L694.8,359.4L695.2,358.2L694.3,357.2L693.7,356.1ZM669.8,425.3L669,426.5L668.8,428.8L668,430.5L667.8,432.7L669,432.8L669.3,432.9L672,431.1L672.2,431.8L673.9,429.8L675.2,428.9L677,425.8L675.9,425.6L673.9,426.1L672.5,426.5L671,425.6Z"/>
<path fill="#ffffcc" d="M741.9,411.2L740.6,410.5L740.3,409.1L739.4,409.3L739.2,411.1L739.5,413.4L739.9,414.5L739.5,415L739.3,416.7L738.2,418.4L736.5,420.4L734.4,421.3L733.7,422.3L735.2,423.3L734.9,424.7L732.1,426.8L732.7,427.2L732.5,427.9L734.9,426.9L737.3,425.1L739.2,423.7L739.8,423.2L740.4,422.1L741.5,421.3L743.1,421.4L744.8,419.8L746.9,417.5L746.1,417.2L744.2,418.2L742.8,418L741.7,417.2L742.6,415.2L742.1,414.5L740.9,416.3L741.1,413.5ZM729.7,424.8L727.3,426L725.9,427.4L724.6,428.1L722.2,430L719.9,431.4L717,432.7L714.7,433.7L713,434.2L708.3,436.7L705.7,438.6L705.2,439.6L707.3,439.8L707.9,440.6L709.8,440.6L711.4,439.9L714,438.8L717.3,436.2L719.3,434.5L721.9,433.5L723.5,433.5L723.8,432.2L725.7,431.2L728.6,429.3L730.3,428.1L731.1,427L731.3,426L731.3,425.9L730.1,426.5L729,427L729.3,425.9Z"/>
<path fill="#c7e9b4" d="M722.3,336.1L721.3,335.3L720.3,333.6L719.7,333L719.5,332.2L719.1,332.5L719.5,334.5L720.4,336.1L721.3,337.1L722,336.9ZM715.1,328.6L714.2,327.5L713.3,326.9L712.5,326.3L711.3,325.6L710.6,326.2L712.2,327L713.5,328.1L714.5,329L715,330L715.3,331.5L716.1,330.8L715.9,329.4ZM712.4,329.9L712.6,331.5L711.2,332.4L710.5,333.3L709.2,333.5L709.1,332.1L708.7,332.2L708.3,333.4L707,333.6L705,333.3L704.7,334.1L706,334.8L707.8,335.6L709.1,335.6L710.3,334.9L711.6,334.3L712,333.6L713.2,333.4L714.1,331.8L714.3,330.3L713.8,329.9ZM687.3,342.9L689.6,343L690.9,343.4L691.8,343L692.8,342.5L692.7,340.6L694.1,339.7L696.1,339L699,340.1L700,342.4L701.2,343.8L702.8,345.5L705.1,345.9L707,346.2L707.5,346.9L709,346.7L709.4,345.9L707.1,344.8L707.8,344.3L706.1,343.9L706.3,342.8L705,342.8L703.7,340.1L701.8,338.4L701.5,336.6L703.6,336.3L703.1,334.9L699.4,333.3L699.2,331.8L698,330.5L696.4,329.1L692.3,327.6L688.3,325.8L687.9,334.4Z"/>
<path fill="#ffffcc" d="M734.2,347.3L735.8,347.3L735.3,346.4L734.9,346.4L733.6,345.7ZM732.4,340.8L732.7,342.4L734.2,344.6L734.6,344.1L733.8,342.9L733.2,340.8ZM732.6,344.8L732.3,344.2L731.6,343.6L730.1,343.2L729.9,344.2L730.3,344.6L731.7,344.9ZM728.6,338.8L727.6,338.2L727.2,338.4L728,339.3L729.1,340.2L730.8,341.4L730.8,340.8L730.3,340ZM724.8,337.4L723.5,336.3L723.4,336.7L724.2,337.8L725.2,338.4L725.7,338.3Z"/>
<path fill="#ffffcc" d="M744.6,360.6L744.4,361.3L744.9,362.4L745.7,362.1ZM744.2,359.9L744,359.7L744.8,360.2L744.9,358.1L744,357.3L743.6,359.3L743.8,360Z"/>
<path fill="url(#hatch)" stroke="#c9c9c9" d="M737.6,373.4L736.8,372.5L735.8,371.6L734.8,371.6L734.9,372.5L735.9,374.3L737,375.7L738.3,376.9L739.4,377.6L740.4,377L739.6,375.8L738.1,374.1Z"/>
<path fill="#ffffcc" d="M773.4,362.3L773.7,361L772.2,361.9L771.4,362L770.2,362.5L770.2,363.5L771.8,362.9ZM768.6,364.8L767.6,364.5L766.5,365.4L766.4,366.5L767.6,366.8L769.1,366.5L769.8,365.1L769.2,364.4Z"/>
<path fill="#ffffcc" d="M419.1,158.7L417.7,160L414.5,163.1L416.7,164.2L414.8,165.5L415.2,165.9L414.2,167.3L415.2,169.6L414.5,170.4L415.5,170.9L415.9,172.1L416.8,173.5L418.9,174.1L419.3,174.8L420.2,174.5L422.2,175.1L422.7,176.2L422.4,176.9L423.9,178.5L424.8,179L424.8,179.4L426.2,179.8L426.9,180.5L426.2,181.1L424.6,181L424.3,181.2L424.9,182L425.7,183.6L426.5,183.7L426.8,183.1L427.5,183.3L429.5,183L431,184.5L430.6,185L430.9,185.7L432.5,185.9L433.5,187L433.5,187.4L436.3,188.3L437.7,187.9L439.2,189.1L440.3,189.1L443.5,189.9L443.7,190.7L443.1,192L443.9,193.4L443.7,194.2L441.8,194.4L440.9,195.1L441,196.3L442.8,195.9L443,196.4L440.1,197.5L441.5,198.5L440.2,200.6L438.8,201L440.8,202.5L443.4,203.5L446.4,205.7L446.6,205.4L448.5,205.8L451.6,206.2L454.7,207.5L455.2,208L456.4,207.6L458.4,208.1L459.3,209.2L460.7,209.8L461.4,209.8L463.1,211.4L464.1,211.6L464.3,210.9L465.4,209.9L462.4,206.8L462.2,205.1L459.8,202.7L461.3,200L463.1,199.6L463.7,198.1L462.6,197.7L462.4,196.3L460.7,194.6L459.2,194.7L457.1,193L457.8,191.1L457.1,190.5L458,187.8L460.4,189.2L460.1,187.4L463.5,184.7L466.5,184.6L471.4,186.3L474.1,187.3L475.9,186.3L479,186.2L482,187.5L482.3,186.8L485.2,186.9L485.3,185.7L481.4,184L482.9,182.7L482.3,182.1L483.9,181.4L481.8,179.7L482.4,178.9L489.3,178L490,177.4L494.4,176.5L495.7,175.4L499.4,176L501.2,178.6L502.9,177.9L505.8,178.8L506.3,180.2L508.1,180L511.8,177.7L511.5,178.4L514.9,180.4L522.4,186.7L522.8,185.4L526.2,186.9L528.8,186.2L530.1,186.7L531.7,188.1L533.4,188.6L534.7,189.7L537.1,189.3L538.9,190.9L539.6,190.7L541.6,190.2L544.3,188.1L546.7,186.9L548.8,187.6L551,187.7L552.9,188.9L555,189L558.2,189.6L559.2,187.8L557.6,186.4L558.1,183.7L560.9,184.8L562.9,185.1L565.6,185.7L567.1,187.6L570.6,188.7L572.2,188.2L574.5,187.9L576.7,188.2L579.4,189.4L581.4,190.7L583.2,190.7L586,191.1L587.5,190.5L589.9,190.1L591.7,188.3L593.1,188.6L594.7,189.4L596.9,189.2L599.9,190.1L601.7,188.6L601,187.4L600.9,184.8L601.4,184L600.4,182.6L598.9,182L599.6,180.8L601.7,180.3L604.2,180.2L607.7,181L610.1,181.9L613.3,184.4L614.8,185.5L616.7,187L619.2,189.5L623.2,190.3L626.8,192.1L629.3,194.5L632.4,194.5L633.5,193.5L636.3,192.8L636.8,195.1L636.7,196L637.8,198.8L638.1,201.3L635.3,200.8L634.1,201.7L636.1,203.9L637.6,207L636.6,207.1L637.4,208.4L638,208.8L637.8,208L639.5,206.1L641.5,207.3L642.8,207.3L644.7,205.8L645.1,204.3L645.9,201.3L646.6,198.3L646.1,196.5L646.5,192.8L644.4,188.8L642.2,185.8L641.6,183.3L641.4,182.5L642.7,184L645.9,186.5L648.5,189.9L649.5,191.8L651.7,194.5L653.3,197L655.2,199.2L655.2,197.2L657.8,198.7L656.6,196.9L652.7,194.3L651.2,190.7L654.8,191.5L649.2,187L646.3,184.5L644.2,182L641.4,179.6L639.4,178L638.8,178.3L640.7,179.5L639.9,180.6L641.1,182.1L640.8,181.7L639.7,181.2L634.5,178.4L632.2,178.3L632,179.5L629.7,178.9L627.4,177.4L624,177.1L626.1,171.3L627.5,166.6L632.9,165.8L639,166.3L640,165.1L643.3,165.4L645.1,167.2L647.7,166.9L651.1,166.3L647.9,164.8L648,160.8L651.7,160L656.6,163L658.1,160.4L656.8,158.4L658.8,158.2L661.4,161.5L660.4,163.4L660.1,165.9L660.2,168.9L657.9,169.5L659.1,170.6L659,172.1L661.6,175.5L668.2,181L672.5,184.6L674.8,186.4L675.5,184L673.7,181.5L676,180.9L673.8,178L675.8,176.8L673.9,175.7L672.5,173.7L674.2,173.6L670.5,170L667.8,169.5L666.6,168.5L666.1,166.1L664.8,164.6L667.7,164.9L668.2,163.9L670.1,164.8L672.7,162.9L677.3,164.5L676.6,163.4L677.5,162L678.1,160.3L679.4,160L682,158.3L686.1,158.8L685.7,158.2L684.2,157.2L682.5,156.6L678.7,154.6L675.9,153.6L675.4,153.4L675.9,153.4L677.9,153.6L678.7,152.6L665.2,143.6L661.3,142.6L654.9,141.6L651.6,141.7L645.4,141.1L646.1,142.1L649.6,143.5L648.6,144.2L642.8,142.2L639.9,142.5L636.2,142L633.3,142.1L631.7,142.5L628.8,141.9L626.7,140.3L623.9,139.4L620.2,139.1L614.1,139.5L607.5,137.8L604.3,136.6L587.8,135.2L586.9,136.1L590.7,138L590.8,138.1L590.7,138.1L587.7,137.8L587.3,138.4L583.3,137.7L581.3,138.3L577.4,137.3L578.7,139.6L575,138.7L570.9,137L570.7,136.2L568.2,134.8L564.2,133.7L561.7,133.7L557.9,133.3L559.8,134.9L552.8,134.6L551.2,133.7L545.7,133.3L543.6,133.7L543.5,134.2L541.1,132.8L540.2,133.2L537.2,132.7L534.9,132.4L535.4,131.8L538.2,130.7L539.1,130.1L538.1,129L535.9,128.3L531.2,127.3L526.8,127.3L526,127.8L524.4,126.8L520.6,126.5L522,126.1L518.6,125.4L516.1,126.2L515.7,127L516.3,127.9L513.4,127.9L511.2,128.9L509.5,128.5L505.6,128.6L505.7,129.2L501.9,129.5L500,130.5L498.2,130.5L497.7,131.9L499.9,132.9L496.7,133.2L492.9,133.1L490.5,133.5L492.4,135.8L494.7,137.2L495.3,137.5L494.6,137.3L491.3,136.3L488.1,136.4L486,137.3L487.9,138.8L485.8,138.4L485,136.5L485,136.4L483.3,135.2L482.5,135.2L484,136.7L482.1,138.2L485.5,139.9L485.6,142.1L486.8,143.3L488.8,143.5L488.9,145L490.7,146.3L489.9,147.3L490.2,148.4L488.6,149L488.4,149.8L486.2,149.5L487.7,146.3L487.5,144.8L484.7,143.5L483.2,140.5L481.6,138.9L480.1,138.3L480.5,136.5L479.3,135.3L474.6,134.8L473.7,135.2L474,137.1L472.2,139.1L472.7,139.8L474.7,141.5L474.7,142.5L476.9,142.7L477.2,143.2L479.6,144.3L479.2,145.5L471.6,143L468.9,142.3L463.6,141.6L463.1,142.4L465.6,143.6L464.4,145.1L461.8,143.8L459.8,144.7L456.6,144.7L455.8,145.5L453.6,145.3L454.6,143.9L453.3,143.8L448.3,145.7L445.1,146.8L445.3,148.2L442.8,148.7L441.2,147.9L440.7,146.7L442.7,146.4L441.3,145.2L436.3,144.5L438,145.8L437.7,147.2L439.6,148.5L439.2,150.1L437.3,149.3L435.6,149.1L432.4,151.4L434.1,153.1L432.8,153.6L428.1,152.2L427.2,153.1L428.6,154.1L428.7,155.2L427.1,154.6L424.6,153.9L423.9,151.5L423.5,150.5L420.2,148.8L421.4,148.5L429.6,150.2L432.2,149.6L433.8,148.4L433.1,146.9L431.4,145.9L424.2,143.4L419.5,142.8L416.3,141.5L414.9,142.3L412.2,143.1L410.9,143.4L411.1,144.9L414.1,146.4L412.9,148.1L415.5,150.7L414.8,152.6L416.8,154.4L416.5,155.9L419.5,157.5ZM655.5,138.9L656.9,139.6L658.6,139.5L656,138ZM589.5,130.4L593.7,131.2L596.4,131.4L596.9,130.6ZM582,131L587.8,131.1L586.6,129.6L579.3,128.6L575.1,128.5L573.7,128.8L575,130.2L580.1,131.5ZM587.1,133L585.6,133.3L585.3,134.1L585.7,134.2L587.3,133.1ZM517.5,123.5L512.4,122.4L511.1,122.3L510.2,122.5L510.7,125L518.1,124.3ZM498.2,122.1L501.5,122.9L506.2,123.4L509.1,123.2L507.2,121.5L501.7,119.8L497.8,119L495.3,119.4L493,120.5L495.4,120.8ZM451.2,139.7L456.7,139.9L457.6,139.7L453.5,138L452.2,136.2L453.6,134.2L454.8,132.2L458.3,130.2L462.4,129.3L467,128.3L467.6,127.7L465.9,126.9L463.1,127.1L461.1,127.9L456.3,128.2L452.1,129.5L449.3,130.6L450.3,131.5L447.6,133.3L449.2,133.6L447,135.4L447.7,136.5L446.2,137L447.1,138.1L450.3,138.7ZM431.4,119.8L429.3,119.8L426.7,120.1L429.9,120.1L429.4,120.7L431.2,121.1L432.7,120.8L432.7,120.5L433.9,120.4L435.7,120.1L436,119.9L433.7,119.5L432.6,119.8L432,120.2ZM407.1,178.1L406.8,177.4L406.9,176.8L406,176.4L403.9,175.9L401.4,176.7L401.1,177.8L403.5,178.1ZM73,138.6L71.7,137.9L70,138L67.4,139.5L69.8,139.4L72.4,138.9ZM55.5,153.4L55.8,154.2L57.3,154.2L58.7,153.8L61.9,151.5L65,151.3L68.2,150.3L67.8,148.2L63.6,147.8L61.6,149.5L61.3,148.9L63,147.8L63.5,147.5L62.3,145.3L60.8,143.6L47.3,152.6L49.7,151.6L50.5,150.5L52.9,150.1L53.3,150L53,150.2L51.7,150.8L51.5,151.6L53.9,151.3L55.2,151.7L54.2,152.7Z"/>
<path fill="#ffffcc" d="M181,315.4L183.3,316.9L183.7,316.9L184.3,318L186.2,318.4L186.9,318L188,318.8L189,319.4L189.6,319.2L191.2,320.4L191.9,321.7L193,322.3L194.4,325.1L196.1,325.4L197.4,324.7L198.2,325.2L199.6,325L201.4,326.2L200,328.8L200.7,328.9L201.8,330.3L202.7,323.1L202.8,322L202.4,320.5L201.4,319.5L201.4,317.6L202.7,317.2L203.2,317.5L203.2,316.5L201.9,316.2L201.9,314.6L206.4,314.6L207.1,313.7L207.8,314.6L208.2,316.1L208.6,315.8L208,313.2L207.4,312.3L206.6,311.7L207.8,310.4L207.7,309.8L207,309L206.6,307.3L206.9,305.4L207.4,304.5L207.9,303.1L207.1,302.7L205.7,303L204.1,302.8L203.1,303.1L201.6,300.9L200.3,300.5L197.3,300.8L196.8,299.9L196.2,299.7L196.2,299.1L196.5,298.1L196.4,297.1L195.9,296.5L195.6,295.3L194.5,295.1L195.2,293.6L195.6,291.7L196.3,290.8L197.2,290L197.9,288.7L199.4,288.3L199.9,287.4L199.3,286.7L198.5,286.5L197.3,287.8L196.4,288.4L194.5,289.7L192.7,289.5L192.5,290L191.1,290.1L189.7,291.3L189.1,293.5L189.1,294.4L188.1,294.6L186.3,296.5L186.2,296.5L185.1,296.4L184.8,296.8L185.3,298.3L184.8,299.1L184.1,298.9L183.7,300.2L184.6,301.6L184.9,303.8L184.3,304.5L184.8,306.8L184.3,308.4L185.1,309L184.2,310.3L183.2,312L182,312.2L181.5,313.1L181.6,314.4L180.7,314.6Z"/>
<path fill="#ffffcc" d="M197.9,288.7L197.2,290L196.3,290.8L195.6,291.7L195.2,293.6L194.5,295.1L195.6,295.3L195.9,296.5L196.4,297.1L196.5,298.1L196.2,299.1L196.2,299.7L196.8,299.9L197.3,300.8L200.3,300.5L201.6,300.9L203.1,303.1L204.1,302.8L205.7,303L207.1,302.7L207.9,303.1L207.4,304.5L206.9,305.4L206.6,307.3L207,309L207.7,309.8L207.8,310.4L206.6,311.7L207.4,312.3L208,313.2L208.6,315.8L209.9,317.2L211.7,317L212.2,316.2L213.9,315.6L214.8,315.2L215.1,314L216.8,313.3L216.7,312.8L214.7,312.5L214.4,310.9L214.5,309.1L213.5,308.4L214,308.2L215.7,308.5L217.5,309.2L218.2,308.6L219.8,308.2L222.4,307.2L223.3,306.2L223,305.5L221.5,303.5L222.2,302.8L222.2,301.5L223.6,301.1L224.2,300.7L223.4,299.7L223.7,298.7L225.5,297.2L224.7,296.6L223.5,296.6L223.2,294.5L221.5,293.3L219.6,293.1L218.9,291.8L220.9,291L218.2,291.1L215.3,291.2L215.2,291.9L213.9,292.7L212.2,292.4L210.9,291.2L208.4,291.5L206.4,291.5L206.4,290.6L205,289.2L203.4,289.1L202.6,287.3L201.8,288.1L202,289.3L199.1,290.4L199.1,292.4L199.8,293.3L199.2,295.2L199.1,295.2L198.1,295.3L197.4,293.3L198.5,291.7L198.6,290.4L197.9,289.2L199.3,288.9L199.4,288.3Z"/>
<path fill="#ffffcc" d="M223.7,298.7L223.4,299.7L224.2,300.7L223.6,301.1L222.2,301.5L222.2,302.8L221.5,303.5L223,305.5L224.2,305.4L224.7,306L224.4,307.1L225.2,307.5L225.7,308.7L225,309.6L224.6,311.8L225.2,313.2L225.3,314.4L226.8,315.6L227.9,315.7L228.1,315.2L228.9,315.1L229.9,314.7L230.7,314L232,314.2L232.5,314.1L231.1,311.8L230.9,310.3L230.1,310.3L229.2,308.4L229.6,307.1L229.5,306.5L230.9,305.8L231.3,303.5L230.5,302.5L229.3,301.3L228.4,301.2L228.4,299.8L227,298.2L225.5,297.2Z"/>
<path fill="#ffffcc" d="M230.9,305.8L229.5,306.5L229.6,307.1L229.2,308.4L230.1,310.3L230.9,310.3L231.1,311.8L232.5,314.1L233.8,314.3L234,313.8L233.6,313.2L233.9,312.5L234.8,312.7L235.9,312.5L237.2,313L237.8,311.9L238,310.7L238.4,309.6L237.6,308L237.4,306.2L238.7,304L236.2,303.3L234.4,303.5L234.1,304L231.3,303.5Z"/>
<path fill="url(#hatch)" stroke="#c9c9c9" d="M237.4,306.2L237.6,308L238.4,309.6L238,310.7L237.8,311.9L237.2,313L238.2,313.5L238.9,312.8L239.4,313L239.7,313.7L240.8,313.5L241.7,312.5L242.5,310.6L243.9,308.2L243.5,307.1L241.1,304.9L238.7,304Z"/>
<path fill="#ffffcc" d="M177.4,329.7L177.5,330.6L178.5,330.4L179.4,330.7L180.4,332L181.7,330.9L182.1,329.2L183.4,326.9L186.2,325.9L188.7,323.1L189.4,321.4L189,319.4L188,318.8L186.9,318L186.2,318.4L184.3,318L183.7,316.9L183.3,316.9L181,315.4L179.4,316.5L178.1,317L178.3,318.1L177.4,319.8L177,321.4L176.2,321.8L176.6,324.2L176.2,324.9L177.6,326.1L178.4,324.9L178.9,326L177.8,327.9L178.1,329Z"/>
<path fill="#ffffcc" d="M204.6,365L205.8,362.2L204.6,360L205,359.1L204.5,358.1L205.3,356.8L205.2,354.6L205.2,352.8L205.6,351.9L203.4,347.7L202.1,348.1L201.1,347.8L201,343.8L199.2,345.4L197.2,345.3L196.2,343.9L194.7,343.8L195.1,342.6L193.8,341.1L192.7,338.7L193.3,338.2L193.3,337.1L194.6,336.4L194.3,335L194.9,334L195,332.8L197.6,331L199.5,330.5L199.8,330.2L201.8,330.3L200.7,328.9L200,328.8L201.4,326.2L199.6,325L198.2,325.2L197.4,324.7L196.1,325.4L194.4,325.1L193,322.3L191.9,321.7L191.2,320.4L189.6,319.2L189,319.4L189.4,321.4L188.7,323.1L186.2,325.9L183.4,326.9L182.1,329.2L181.7,330.9L180.4,332L179.4,330.7L178.5,330.4L177.5,330.6L177.4,329.7L178.1,329L177.8,327.9L176,329.6L175.3,331.4L176.5,333.9L175.8,335.1L177.5,336.1L179.4,337.8L180.2,339.8L181.2,341L183.6,346.2L186.2,351L188.4,354.4L188.3,354.8L188.1,355.2L189.2,357.3L191.1,359L195.5,361.8L200.3,364.4L200.6,365.5L203,367L204.1,366.3Z"/>
<path fill="#ffffcc" d="M205.2,352.8L205.2,354.6L205.3,356.8L204.5,358.1L205,359.1L204.6,360L205.8,362.2L204.6,365L205.9,366.8L206.4,368.6L207.7,369.8L207.2,372.3L208.7,375.2L210,378.8L211.6,378.5L213.2,376.1L216.3,376.7L217.8,378.6L218.4,376.5L221,376.6L221.4,377.2L222,374.1L222,372.6L222.8,370.3L226.7,369.6L228.8,369.6L231.1,371L231.2,371.8L231.8,371.2L231.5,369.7L232,368.6L232.2,366.5L231.6,364.9L230.3,364.2L229.9,363.2L230.2,361.6L225.8,361.5L224.7,358.5L225.3,358.5L225.2,357.3L224.7,356.5L224.5,355.1L223.2,354.3L221.7,354.3L220.7,353.5L219.1,353L218.2,352.1L215.6,351.6L213,349.3L213,347.5L212.7,346.5L212.8,344.6L209.9,345L208.7,346L206.7,347L206.3,347.8L205.1,347.9L203.4,347.7L205.6,351.9Z"/>
<path fill="#ffffcc" d="M241.7,312.5L240.8,313.5L239.7,313.7L239.4,313L238.9,312.8L238.2,313.5L237.2,313L235.9,312.5L234.8,312.7L233.9,312.5L233.6,313.2L234,313.8L233.8,314.3L232.5,314.1L232,314.2L230.7,314L229.9,314.7L228.9,315.1L228.1,315.2L227.9,315.7L226.8,315.6L225.3,314.4L225.2,313.2L224.6,311.8L225,309.6L225.7,308.7L225.2,307.5L224.4,307.1L224.7,306L224.2,305.4L223,305.5L223.3,306.2L222.4,307.2L219.8,308.2L218.2,308.6L217.5,309.2L215.7,308.5L214,308.2L213.5,308.4L214.5,309.1L214.4,310.9L214.7,312.5L216.7,312.8L216.8,313.3L215.1,314L214.8,315.2L213.9,315.6L212.2,316.2L211.7,317L209.9,317.2L208.6,315.8L208.2,316.1L207.8,314.6L207.1,313.7L206.4,314.6L201.9,314.6L201.9,316.2L203.2,316.5L203.2,317.5L202.7,317.2L201.4,317.6L201.4,319.5L202.4,320.5L202.8,322L202.7,323.1L201.8,330.3L199.8,330.2L199.5,330.5L197.6,331L195,332.8L194.9,334L194.3,335L194.6,336.4L193.3,337.1L193.3,338.2L192.7,338.7L193.8,341.1L195.1,342.6L194.7,343.8L196.2,343.9L197.2,345.3L199.2,345.4L201,343.8L201.1,347.8L202.1,348.1L203.4,347.7L205.1,347.9L206.3,347.8L206.7,347L208.7,346L209.9,345L212.8,344.6L212.7,346.5L213,347.5L213,349.3L215.6,351.6L218.2,352.1L219.1,353L220.7,353.5L221.7,354.3L223.2,354.3L224.5,355.1L224.7,356.5L225.2,357.3L225.3,358.5L224.7,358.5L225.8,361.5L230.2,361.6L229.9,363.2L230.3,364.2L231.6,364.9L232.2,366.5L232,368.6L231.5,369.7L231.8,371.2L231.2,371.8L232,373.2L232.1,376.8L234.6,377.3L235.5,376.8L237,377.5L237.5,378.3L238,380.6L238.3,381.7L239.2,381.8L240,381.3L240.8,381.8L241,383.3L240.8,384.8L240.5,386.3L241.6,385.8L242.9,387.3L243.1,389.4L241.4,390.8L240,391.9L237.8,394.4L235.4,398L236.8,397.7L239.3,399.7L240.1,399.7L242.7,401.3L244.6,402.8L246.2,404.6L245.4,405.8L246.3,407.3L247.5,405.8L248.1,403.3L249.4,402.1L251,400L252.9,395.4L254.2,394L254.6,392.7L254.7,390.1L254.2,388.6L254.3,386.7L256,384.1L258.4,382L260.9,381.2L262.4,380.1L265.9,379.1L268.3,379.1L268.8,377.5L270.5,376.4L270.7,373.7L272.8,370.3L273,366.8L273.6,365.7L273.8,364L274.2,360L273.9,355.1L274.4,353.2L275,353.1L276.6,350.9L278,347.9L281.1,344.3L282.2,342.6L283.1,338.2L282.6,336.7L281.8,333.3L280.9,332.5L279,332.4L277.2,331.6L274.2,328.7L270.8,326.5L267.3,326.7L262.8,325.3L260.1,326.1L260.5,324.6L259.4,323.1L255.5,321.5L252.6,320.6L250.9,322.3L250.8,319.7L246.7,319.3L246,318.5L247.7,316.3L247.7,314.5L246.4,314.1L245.2,309.5L244.7,308.1L243.9,308.2L242.5,310.6Z"/>
<path fill="#ffffcc" d="M228.8,369.6L226.7,369.6L222.8,370.3L222,372.6L222,374.1L221.4,377.2L226,381.4L227.9,381.8L230.9,383.8L233.3,384.8L233.8,385.9L232,389.9L234.4,390.6L236.9,391L238.6,390.6L240.4,388.6L240.5,386.3L240.8,384.8L241,383.3L240.8,381.8L240,381.3L239.2,381.8L238.3,381.7L238,380.6L237.5,378.3L237,377.5L235.5,376.8L234.6,377.3L232.1,376.8L232,373.2L231.2,371.8L231.1,371Z"/>
<path fill="#ffffcc" d="M246.2,404.6L244.6,402.8L242.7,401.3L240.1,399.7L239.3,399.7L236.8,397.7L235.4,398L235.2,400.1L235,402.8L235.5,405.4L235.2,406L235.3,407.7L236.9,409.1L238.4,409L240.6,410.1L241.7,409.9L243.4,410.4L245.6,408.9L246.3,407.3L245.4,405.8Z"/>
<path fill="#ffffcc" d="M235.2,406L235.5,405.4L235,402.8L235.2,400.1L235.4,398L237.8,394.4L240,391.9L241.4,390.8L243.1,389.4L242.9,387.3L241.6,385.8L240.5,386.3L240.4,388.6L238.6,390.6L236.9,391L234.4,390.6L232,389.9L233.8,385.9L233.3,384.8L230.9,383.8L227.9,381.8L226,381.4L221.4,377.2L221,376.6L218.4,376.5L217.8,378.6L216.3,376.7L213.2,376.1L211.6,378.5L212,379.1L211.5,381.8L209.2,383.1L209.8,387.5L209.5,388.3L210.3,389.3L209,391L207.9,393.4L207.6,395.8L208.2,398.3L207.4,401L209.4,405.5L210.1,406L210.6,408.4L209.9,410.9L210.5,413.1L209.3,414.8L210,417.2L211.3,419.8L210.3,420.7L210.4,423L210.7,425.7L212,428.8L211.3,429.4L212.8,432.4L214.1,433.3L213.8,434.4L214.9,434.9L215.5,435.9L214.7,436.4L215.5,437.9L215.9,441.3L215.7,443.5L216.4,444.7L216.4,446.4L215.2,447.5L216.5,450.2L217.6,451.1L218.8,450.9L219.6,452.8L221,454.3L225.9,454.6L227.9,455L228.8,455.1L226.9,453.6L225.2,451L225.6,449.9L227,448.9L227.3,445.9L229.1,444.4L229.1,442.2L226.9,441.6L224.3,439.8L224.3,437.9L225.4,436.5L227.4,436.5L227.4,435.2L227,432.6L228.1,431L229.8,430.2L228.8,428.8L227.9,429.6L226.3,428.9L225.2,426.3L225.9,425.6L228.2,426.6L230.2,426.2L231.3,425.3L230.5,424L230.5,422L229.6,420.5L232,420.7L236.2,420.2L239.1,418.8L240.4,415.5L240.3,414.2L238.7,413.1L238.6,411.3L235.4,409L235.3,407.7ZM230.6,461.4L232.6,461.4L233.8,461.4L235.2,462.3L237,462.2L237.3,460.9L234.3,460.3L231.2,458.8L229.4,457L228.2,455.8Z"/>
<path fill="#ffffcc" d="M228.2,455.8L226.6,455.5L225.3,456.5L225.4,458.3L224.9,459.2L224.9,459.4L224.5,459.3L223.4,459L223.4,458.9L224,458.9L224.8,458.8L224.1,456.5L225.5,455.6L226.2,455L227.9,455L225.9,454.6L221,454.3L219.6,452.8L218.8,450.9L217.6,451.1L216.5,450.2L215.2,447.5L216.4,446.4L216.4,444.7L215.7,443.5L215.9,441.3L215.5,437.9L214.7,436.4L215.5,435.9L214.9,434.9L213.8,434.4L214.1,433.3L212.8,432.4L211.3,429.4L212,428.8L210.7,425.7L210.4,423L210.3,420.7L211.3,419.8L210,417.2L209.3,414.8L210.5,413.1L209.9,410.9L210.6,408.4L210.1,406L209.4,405.5L207.4,401L208.2,398.3L207.6,395.8L207.9,393.4L209,391L210.3,389.3L209.5,388.3L209.8,387.5L209.2,383.1L211.5,381.8L212,379.1L211.6,378.5L210,378.8L208.7,375.2L207.2,372.3L207.7,369.8L206.4,368.6L205.9,366.8L204.6,365L204.1,366.3L203,367L203.9,370.7L204.5,374.9L204.5,380.8L204.4,386.2L204.8,391.3L204,394.5L204.9,397.7L204.7,399.8L206,403.8L206,407.7L205.5,411.8L205.2,416L204.3,416.1L205.3,419.1L206.7,421.6L206.2,423.4L207,428.2L207.6,431.9L209.1,432.2L208.6,429L210.2,429.7L211,435L208.4,434.1L209.2,438.4L208.1,440.7L211.5,441.4L210.1,443.4L210.2,445.8L212.2,450.2L213.9,451.8L214,453.3L215.3,454.9L218.4,456.3L218.9,456.6L221.5,458L219.6,457L219.5,457.2L218.4,456.8L216.6,456.3L220.5,459.1L223.1,460.5L224,460.8L226.2,461.8L228.4,462.2L230.1,462.9L231.3,463.1L232.3,463.2L233.6,462.4L233.8,461.4L232.6,461.4L230.6,461.4Z"/>
<path fill="#41b6c4" d="M591.4,288L590.3,285.6L590.2,284.4L589.8,282.9L588,280.8L587.3,279.5L588.1,279L588.6,276.8L587.5,275L585.8,273.1L584.4,270.8L585.3,270.4L585.9,267.5L587.5,267.4L588.6,266.3L589.8,265.7L590.1,264.7L591.8,263L591.6,262L590,262.7L589,262.2L587.1,261.2L587.4,259.1L585.9,258.6L585,256.2L582.7,256.6L582.4,253.5L584.1,251.3L583.8,249.2L583.2,247.2L582.1,246.5L581,245L579.8,245.2L580.2,246.2L579.5,246.7L580,248.3L578.3,247.8L575.8,249.6L576.2,251.1L575.4,253.3L575.5,254.6L574.8,256.7L573,256.1L573.3,258.8L572.9,259.7L573.4,260.8L572.3,261.5L572.6,263.3L571.7,262.9L572.2,265L574.1,267.2L575.4,267.5L575.3,268.4L577.5,271.5L578.3,273.9L577.9,277.1L579.4,277.8L580.7,278L583.1,276.1L584.4,274.8L585.7,277L586.5,280.3L587.6,283.4L588.6,284.8L588.7,287.6L589.6,289.2L589.1,291.1L589.4,293.1L590.4,290.4Z"/>
<path fill="#c7e9b4" d="M597.3,284.1L598.6,281.9L601.5,281.4L603.7,281.8L604.3,280.6L604.1,278.4L602,276.1L601.5,273.5L599.4,271.4L597.7,271.2L597.3,272.1L596,272.2L595.3,271.7L593.1,273.3L592.7,270.9L592.8,268.2L591.3,268.1L590.9,266.5L589.8,265.7L588.6,266.3L587.5,267.4L585.9,267.5L585.3,270.4L584.4,270.8L585.8,273.1L587.5,275L588.6,276.8L588.1,279L587.3,279.5L588,280.8L589.8,282.9L590.2,284.4L590.3,285.6L591.4,288L590.4,290.4L589.4,293.1L588.9,295.6L588.8,297.2L589.3,298.7L589.6,297.2L590.8,298.4L592.1,299.9L592.6,301.2L593.5,302.2L593.9,301.7L595.8,302.8L596.1,304.2L597.6,303.9L598.3,302.8L597,301.4L595.6,301.1L594.2,299.6L593.7,297.4L592.6,295L591.1,294.9L590.8,293L591.4,290.7L592.3,286.9L592.2,284L594.2,284L594.1,286L596,286L598.2,287.2Z"/>
<path fill="#2c7fb8" d="M606.5,281L608.6,281.9L608.7,279.3L607.9,277.5L606,275.7L604.2,273.3L601.8,270.3L598.9,268.7L599.4,267.8L600.7,267.1L599.5,264.8L596.7,264.8L595.2,262.4L593.6,260.4L592.5,260.7L593.3,263.7L592.1,263.7L591.8,263L590.1,264.7L589.8,265.7L590.9,266.5L591.3,268.1L592.8,268.2L592.7,270.9L593.1,273.3L595.3,271.7L596,272.2L597.3,272.1L597.7,271.2L599.4,271.4L601.5,273.5L602,276.1L604.1,278.4L604.3,280.6L603.7,281.8L605.7,282.8Z"/>
<path fill="#7fcdbb" d="M602.6,291.6L604.5,290.6L606.9,290.4L605.8,288.8L609.4,286.8L609.3,283.7L608.6,281.9L606.5,281L605.7,282.8L603.7,281.8L601.5,281.4L598.6,281.9L597.3,284.1L598.2,287.2L599.6,289.9L600.7,291.3Z"/>
<path fill="#c7e9b4" d="M604.9,262.1L603.6,261L603.7,259.5L601.6,259L600.3,258L598.7,259.4L596.5,259.7L594.7,259.7L593.6,260.4L595.2,262.4L596.7,264.8L599.5,264.8L600.7,267.1L599.4,267.8L598.9,268.7L601.8,270.3L604.2,273.3L606,275.7L607.9,277.5L608.7,279.3L608.6,281.9L609.3,283.7L609.4,286.8L605.8,288.8L606.9,290.4L604.5,290.6L602.6,291.6L604.4,293.1L603.9,294.9L604.9,296.6L607.6,294.1L609.3,292L611.8,290.3L613.5,288.6L613.3,284L611.7,279.1L610,277L607.7,275.4L605.1,272L602.9,269.2L603.2,267.4L604.6,265L607.3,262.7Z"/>
<path fill="#ffffcc" d="M636,306.1L637.5,305.9L637.7,304.9L635.7,304.1L634.1,303.4L634,302.3L632.7,300.9L631.8,301L630.7,303L629.1,304.8L629,304.8L629,304.9L629,307.8L627.9,307.7L627.4,308.6L626.3,307.2L625.2,308.9L623.7,310.9L620.9,311.5L620,312L619.6,314.2L617.8,314.7L616.1,313.8L616.5,315.5L618.1,317L619.6,316.5L621,316.7L622.4,315.4L623.5,315.1L625.7,315.9L627.5,315.3L628.6,311.7L629.5,310.8L630.2,307.8L632.8,307.8L634.8,308.2L636.5,307.3ZM596.1,304.2L595.8,302.8L593.9,301.7L593.5,302.2L594.1,303.3L593.9,305.2L594.8,306.6L595.2,308.8L596.6,310.5L596.9,311.8L599.7,313.9L601.9,315.8L603.6,315.7L603.6,314.8L602.6,312.5L601.8,311.8L601.6,310.2L601.3,309.3L601.5,308.1L601.3,306.4L600.3,304.6L598.8,303L598.3,302.8L597.6,303.9Z"/>
<path fill="#ffffcc" d="M627.9,307.7L629,307.8L629,304.9L627.2,306.2L626.3,307.2L627.4,308.6Z"/>
<path fill="#7fcdbb" d="M673.1,326.3L672.6,322.1L672.3,321.1L668.6,320L667.4,320.9L664.3,321.5L665.2,322.8L667.3,323.3L668.1,324.8L671.5,324.8L671.7,325.5L670,325.5L667.5,326.4L669.2,327.7L669.2,328.8L669.7,329.8L670.6,329.6L671.3,328.3L674.6,330.7L676.5,330.9L680.9,333.1L681.8,335.3L682.2,338.2L680.7,338.9L679.6,341L682.5,340.9L683.1,340.2L685.4,340.7L687.3,342.9L687.9,334.4L688.3,325.8L685.9,325.3L684.2,324.4L682.2,323.5L680.2,323.5L677.5,325.1L675.5,327.9ZM658,327.9L659.6,328L660.9,327.8L662.8,328.1L664.7,329.1L664,327.1L661.5,326.4L658.6,326.5ZM657.5,314.3L657,316.4L657.8,319.8L658.7,321.4L659.3,321.1L658.4,319.7L658.7,318.1L659.9,318.4L660,316.1L659.8,315L658.4,314.8L658.2,313.4ZM653.6,327.4L654,328.5L655.6,329L656.5,328.1L656,327.2ZM638.1,333.1L639,333.9L640.5,333.5L640.6,329.8L640.6,326.7L642.1,325.9L641.9,328.5L643.4,330L643.1,331L643.6,331.7L645.9,330.7L644.7,332.8L645.6,333.8L646.8,333L647,331.3L645,328.3L645.5,327.4L643.4,324L645.5,323L646.5,321.5L647.5,321.9L647.7,320.7L643.4,321.6L642.1,322.7L640.1,320.4L640.4,318.4L642.4,318.1L646.3,317.9L648.5,318.4L650.2,317.9L652,315.3L651.6,314.8L649.4,316.6L646.7,316.8L643.8,316.4L641.9,315.7L640.1,317.6L639.6,318.7L638.4,322.6L638,324.7L637,326.4L637.7,328.2L638.6,328.2L638.9,330.7ZM646.6,345.8L646.8,346.1L648.9,345.5L650.5,343.6L650.6,342.8L650.4,342.3L648,343.3L646.9,344.9ZM641.8,342.4L645.3,341.7L645.8,340.2L643.7,341.2L642.1,341.4L640.7,340.6L638.9,341.1L638.8,342.1ZM636.4,344L639.3,345.9L640.3,345.8L640.5,345.1L639.8,344.3L638.6,343.5ZM619.6,316.5L618.1,317L616.5,315.5L616.1,313.8L614.7,315.5L614.5,318L614.6,319.1L614.8,320.3L615.9,322.5L617,323.2L617.3,326.7L619.2,327L620.7,326.9L621.5,328.1L624.3,327.2L625.4,328L627,328.2L627.9,329.8L630.6,328.6L630.9,329.5L631.9,325.5L632,322.9L634.2,321.1L634.2,318.8L634.9,317L637.7,316.7L635,314.3L635.4,313.1L633.6,310.6L634.8,308.2L632.8,307.8L630.2,307.8L629.5,310.8L628.6,311.7L627.5,315.3L625.7,315.9L623.5,315.1L622.4,315.4L621,316.7ZM636.5,340.7L635.1,340.9L634.3,340.2L633.6,341.1L632.3,341.2L631.4,342.6L632.7,342.7L634.3,342.3L637,341.8ZM614.8,339.3L617.5,340.3L619.6,340.7L621.9,340.9L624,340.9L626.5,341.9L629.2,340.9L626.5,339.4L623,338.9L622.3,337.2L618.1,336L617.5,337L613.1,336.8L612.9,335.8L611.9,335.6L610.1,334.6L607.3,334.5L605.6,336.9L607.7,337.1L608,338.3L612.2,339.4L613.2,339ZM600.9,317.6L599.6,315.4L597.6,313.6L595.2,313.6L593,310.8L591.7,309.7L589.8,307.9L587.7,305.3L584.1,304.8L582.6,304.7L582.9,306.1L585.4,308.9L587.2,310.4L588.4,312.6L590.5,314.3L591.4,316.3L592.1,318.6L594.1,320.7L595.8,324.4L596.9,326.4L598.6,328.5L599.5,330.1L602.4,332.2L604.2,334.4L606.8,334.3L607.1,330.3L607.8,327L606.7,325.4L605,325.2L604.3,323.7L603.9,321.9L603.1,321.8L601.8,320.9L602.7,318.8Z"/>
<path fill="#41b6c4" d="M650.7,341.7L650.4,342.3L650.6,342.8L650.5,343.6L652.5,342.9L655,341.7L655.9,341L655.1,340.7L654.3,341L652.7,341.1Z"/>
<path fill="#7fcdbb" d="M651.5,295.6L649.9,295.6L649.6,296.8L648.8,297.2L647.9,297.5L647,296.3L645.8,297.3L644.4,298.1L643.7,300.3L644.1,301L645.7,299.6L646.8,299.7L647.5,298.6L649,299.8L648.4,301L649.2,303L652,304.5L652.5,303.2L651.7,301.3L652.7,300L653.7,302.7L654.3,300.3L654.3,300.1L654.1,298.8L653.7,297.1L653.5,296.1L653.2,294.8L651.2,293.5ZM649.4,288.2L649.6,289.2L648.2,289L648.7,290.6L649.4,290.7L649.7,292.6L650.7,292L650,290.4L649.9,289.5L651.7,290.2L650.7,287.3L650,286.3L647.8,286.2ZM646.5,290.5L645.3,290.6L645.2,292.2L644.7,293L644.2,293.7L645.8,295.5L646.5,294.7L647,293.1L647.8,292.2L647.8,289.7L646.3,292.2ZM636.9,278.8L637.4,279.9L637.8,280.4L638.7,281.4L638.9,280.5L639.6,281.1L639,281.8L639.1,282.8L640.3,283.4L642.3,283L643.9,284.6L644.4,283.6L645.4,285L647.4,286.3L647.4,286.2L647.5,285.1L646.6,284.5L646.7,283L643.6,281.6L642.7,281.9L641.4,281.6L640.6,279.5L640.7,277.4L641.9,276.6L642.1,274.4L641,272.5L641.2,271.4L640.9,270.8L640.3,271.4L638.8,270.7L637.4,270.7L637.1,273.1L637.5,277.2L636.4,276.3ZM644.6,291L644.9,290.7L644.9,290.6L645.3,290.1L645.5,289.9L645.5,288.8L644,288.8L642.5,288L643,289.2L643,290.5L643.2,291.8ZM638.5,283.9L639.9,285.9L641,287.1L641.4,284.9L640.5,284ZM636.5,292.9L637.9,291.5L637.2,289.3L636.3,291.9L635.1,293.8L633.5,295.3L632.5,297.2L635.4,294.7Z"/>
<path fill="#7fcdbb" d="M305.8,274.2L305.5,274.3L305.4,274.6L305.5,274.9L305.8,275.1L306.1,274.9L306.3,274.6L306.1,274.3Z"/>
<path fill="#7fcdbb" d="M307.6,275.2L307.3,275.4L307.1,275.7L307.3,276L307.6,276.1L307.9,276L308,275.7L307.9,275.4Z"/>
<path fill="#7fcdbb" d="M310.8,276.5L310.4,276.7L310.3,277L310.4,277.3L310.8,277.4L311.1,277.3L311.2,277L311.1,276.7Z"/>
<path fill="#7fcdbb" d="M309.1,279.1L308.8,279.3L308.6,279.6L308.8,279.9L309.1,280L309.4,279.9L309.5,279.6L309.4,279.3Z"/>
<path fill="#7fcdbb" d="M307.2,279.7L306.9,279.8L306.8,280.1L306.9,280.4L307.2,280.6L307.6,280.4L307.7,280.1L307.6,279.8Z"/>
<path fill="#7fcdbb" d="M378.2,317.9L377.9,318L377.7,318.4L377.9,318.8L378.2,318.9L378.6,318.8L378.7,318.4L378.6,318Z"/>
<path fill="#7fcdbb" d="M462.4,349.1L462.1,349.3L461.9,349.6L462.1,350L462.4,350.1L462.8,350L462.9,349.6L462.8,349.3Z"/>
<path fill="#7fcdbb" d="M464.8,350.4L464.4,350.6L464.3,350.9L464.4,351.3L464.8,351.4L465.2,351.3L465.3,350.9L465.2,350.6Z"/>
<path fill="#ffffcc" d="M490.9,330.8L490.7,330.9L490.5,331.2L490.7,331.5L490.9,331.6L491.2,331.5L491.3,331.2L491.2,330.9Z"/>
<path fill="#ffffcc" d="M493.4,371.5L493,371.7L492.8,372.1L493,372.5L493.4,372.7L493.8,372.5L494,372.1L493.8,371.7Z"/>
<path fill="#ffffcc" d="M532.5,307.7L532.2,307.8L532.1,308.1L532.2,308.4L532.5,308.5L532.8,308.4L532.9,308.1L532.8,307.8Z"/>
<path fill="#ffffcc" d="M220.4,273.6L220.1,273.4L219.8,273.6L219.7,273.8L219.8,274.1L220.1,274.2L220.4,274.1L220.5,273.8Z"/>
<path fill="#ffffcc" d="M222.6,272.8L222.3,272.7L222,272.8L221.9,273.1L222,273.3L222.3,273.5L222.6,273.3L222.7,273.1Z"/>
<path fill="#ffffcc" d="M222.2,274.1L221.9,274.2L221.8,274.5L221.9,274.8L222.2,274.9L222.5,274.8L222.6,274.5L222.5,274.2Z"/>
<path fill="#ffffcc" d="M223.2,278.5L222.9,278.4L222.6,278.5L222.5,278.8L222.6,279.1L222.9,279.2L223.2,279.1L223.3,278.8Z"/>
<path fill="#ffffcc" d="M223.8,282.4L223.5,282.3L223.2,282.4L223.1,282.7L223.2,283L223.5,283.1L223.8,283L223.9,282.7Z"/>
<path fill="#ffffcc" d="M223.1,284.1L222.8,284L222.6,284.1L222.4,284.4L222.6,284.7L222.8,284.8L223.1,284.7L223.2,284.4Z"/>
<path fill="#ffffcc" d="M226.6,284.3L226.3,284.4L226.2,284.7L226.3,285L226.6,285.1L226.9,285L227,284.7L226.9,284.4Z"/>
<path fill="#ffffcc" d="M221.8,287.1L221.5,287L221.2,287.1L221.1,287.4L221.2,287.7L221.5,287.8L221.8,287.7L221.9,287.4Z"/>
<path fill="#ffffcc" d="M394.5,225L394.2,224.8L393.9,225L393.8,225.2L393.9,225.5L394.2,225.6L394.5,225.5L394.6,225.2Z"/>
<path fill="#ffffcc" d="M672.5,299L672.3,299.1L672.2,299.3L672.3,299.5L672.5,299.6L672.7,299.5L672.8,299.3L672.7,299.1Z"/>
<path fill="#ffffcc" d="M680.2,293.9L680,294L679.9,294.2L680,294.4L680.2,294.5L680.4,294.4L680.5,294.2L680.4,294Z"/>
<path fill="#ffffcc" d="M712.3,299L712.1,299.1L712,299.3L712.1,299.5L712.3,299.6L712.5,299.5L712.6,299.3L712.5,299.1Z"/>
<path fill="#ffffcc" d="M727.3,300.9L727.1,301L727,301.2L727.1,301.4L727.3,301.5L727.5,301.4L727.6,301.2L727.5,301Z"/>
<path fill="#ffffcc" d="M738.5,304.9L738.3,305L738.2,305.2L738.3,305.4L738.5,305.5L738.7,305.4L738.8,305.2L738.7,305Z"/>
<path fill="#ffffcc" d="M753.5,303.1L753.3,303.2L753.2,303.4L753.3,303.6L753.5,303.7L753.7,303.6L753.8,303.4L753.7,303.2Z"/>
<path fill="#ffffcc" d="M756.8,300L756.6,300.1L756.5,300.3L756.6,300.5L756.8,300.6L757,300.5L757.1,300.3L757,300.1Z"/>
<path fill="#ffffcc" d="M748.5,319.9L748.3,320L748.2,320.2L748.3,320.4L748.5,320.5L748.7,320.4L748.8,320.2L748.7,320Z"/>
<path fill="#ffffcc" d="M768.5,333.2L768.3,333.3L768.2,333.5L768.3,333.7L768.5,333.8L768.7,333.7L768.8,333.5L768.7,333.3Z"/>
<path fill="#ffffcc" d="M770.5,337.2L770.3,337.3L770.2,337.5L770.3,337.7L770.5,337.8L770.7,337.7L770.8,337.5L770.7,337.3Z"/>
<path fill="#ffffcc" d="M774,339.2L773.8,339.3L773.7,339.5L773.8,339.7L774,339.8L774.2,339.7L774.3,339.5L774.2,339.3Z"/>
<path fill="#ffffcc" d="M774.5,340.9L774.3,341L774.2,341.2L774.3,341.4L774.5,341.5L774.7,341.4L774.8,341.2L774.7,341Z"/>
<path fill="#ffffcc" d="M776.5,343.2L776.3,343.3L776.2,343.5L776.3,343.7L776.5,343.8L776.7,343.7L776.8,343.5L776.7,343.3Z"/>
<path fill="#ffffcc" d="M768.5,351.2L768.3,351.3L768.2,351.5L768.3,351.7L768.5,351.8L768.7,351.7L768.8,351.5L768.7,351.3Z"/>
<path fill="#ffffcc" d="M0.3,313.8L0,313.9L-0.1,314.2L0,314.5L0.3,314.6L0.6,314.5L0.7,314.2L0.6,313.9Z"/>
<path fill="url(#hatch)" stroke="#c9c9c9" d="M501.6,446.7L501.5,448.4L504.1,448.4L505.1,446.9L503.7,445.6Z"/>
</g>
<g id="legend" shape-rendering="auto">
<rect x="215.5" y="517.3" width="48.2" height="11.1" rx="0.8" fill="url(#hatch)" stroke="#bdbdbd" stroke-width="0.8"/>
<line x1="239.5" y1="514" x2="239.5" y2="517.5" stroke="#999" stroke-width="0.6"/>
<rect x="283.25" y="517.3" width="58.5" height="11" fill="#ffffcc"/>
<rect x="341.75" y="517.3" width="58.5" height="11" fill="#c7e9b4"/>
<rect x="400.25" y="517.3" width="58.5" height="11" fill="#7fcdbb"/>
<rect x="458.75" y="517.3" width="58.5" height="11" fill="#41b6c4"/>
<rect x="517.25" y="517.3" width="58.5" height="11" fill="#2c7fb8"/>
<path d="M575.75,517.3H629L634.4,522.8L629,528.3H575.75Z" fill="#253494"/>
<path d="M283.25,517.3H629M283.25,528.3H629" stroke="#9a9a9a" stroke-width="0.5" fill="none" opacity="0.7"/>
<path d="M283.25,514V528.3M341.75,514V528.3M400.25,514V528.3M458.75,514V528.3M517.25,514V528.3M575.75,514V528.3" stroke="#8a8a8a" stroke-width="0.6" fill="none"/>
</g>
</svg>
<div id="title" class="t">T<span class="lc">etanus death rate, </span><span class="d">202<span class="d3">3</span></span></div>
<div class="t sub" style="left:16px;top:53.6px;letter-spacing:-0.11px">The number of deaths from tetanus per 100,000 individuals. This rate is age-standardized, keeping the</div>
<div class="t sub" style="left:16px;top:71.5px;letter-spacing:0.012px">population structure constant to allow for comparisons between countries and over time.</div>
<div id="logo"><span style="top:5px;letter-spacing:-0.2px">Our World</span><span style="top:17px;letter-spacing:-0.2px">in Data</span></div>
<div class="t lg" style="left:216px;top:499px;">No data</div>
<div class="t lg" style="left:263.25px;top:499px;width:40px;text-align:center">0</div>
<div class="t lg" style="left:321.75px;top:499px;width:40px;text-align:center">0.1</div>
<div class="t lg" style="left:380.25px;top:499px;width:40px;text-align:center">0.3</div>
<div class="t lg" style="left:438.75px;top:499px;width:40px;text-align:center">1</div>
<div class="t lg" style="left:497.25px;top:499px;width:40px;text-align:center">3</div>
<div class="t lg" style="left:555.75px;top:499px;width:40px;text-align:center">10</div>
<div class="t foot" style="left:16.5px;top:550px;"><b>Data source:</b><span style="letter-spacing:-0.18px"> IHME, Global Burden of Disease (2025)</span></div>
<div class="t foot" style="left:16.5px;top:570px;"><b>Note:</b><span style="letter-spacing:-0.068px"> To allow for comparisons between countries and over time, this metric is age-standardized.</span></div>
<div class="t foot" style="right:18.6px;top:550px;letter-spacing:0.015px">OurWorldinData.org/tetanus | CC BY</div>
</body>
</html>
